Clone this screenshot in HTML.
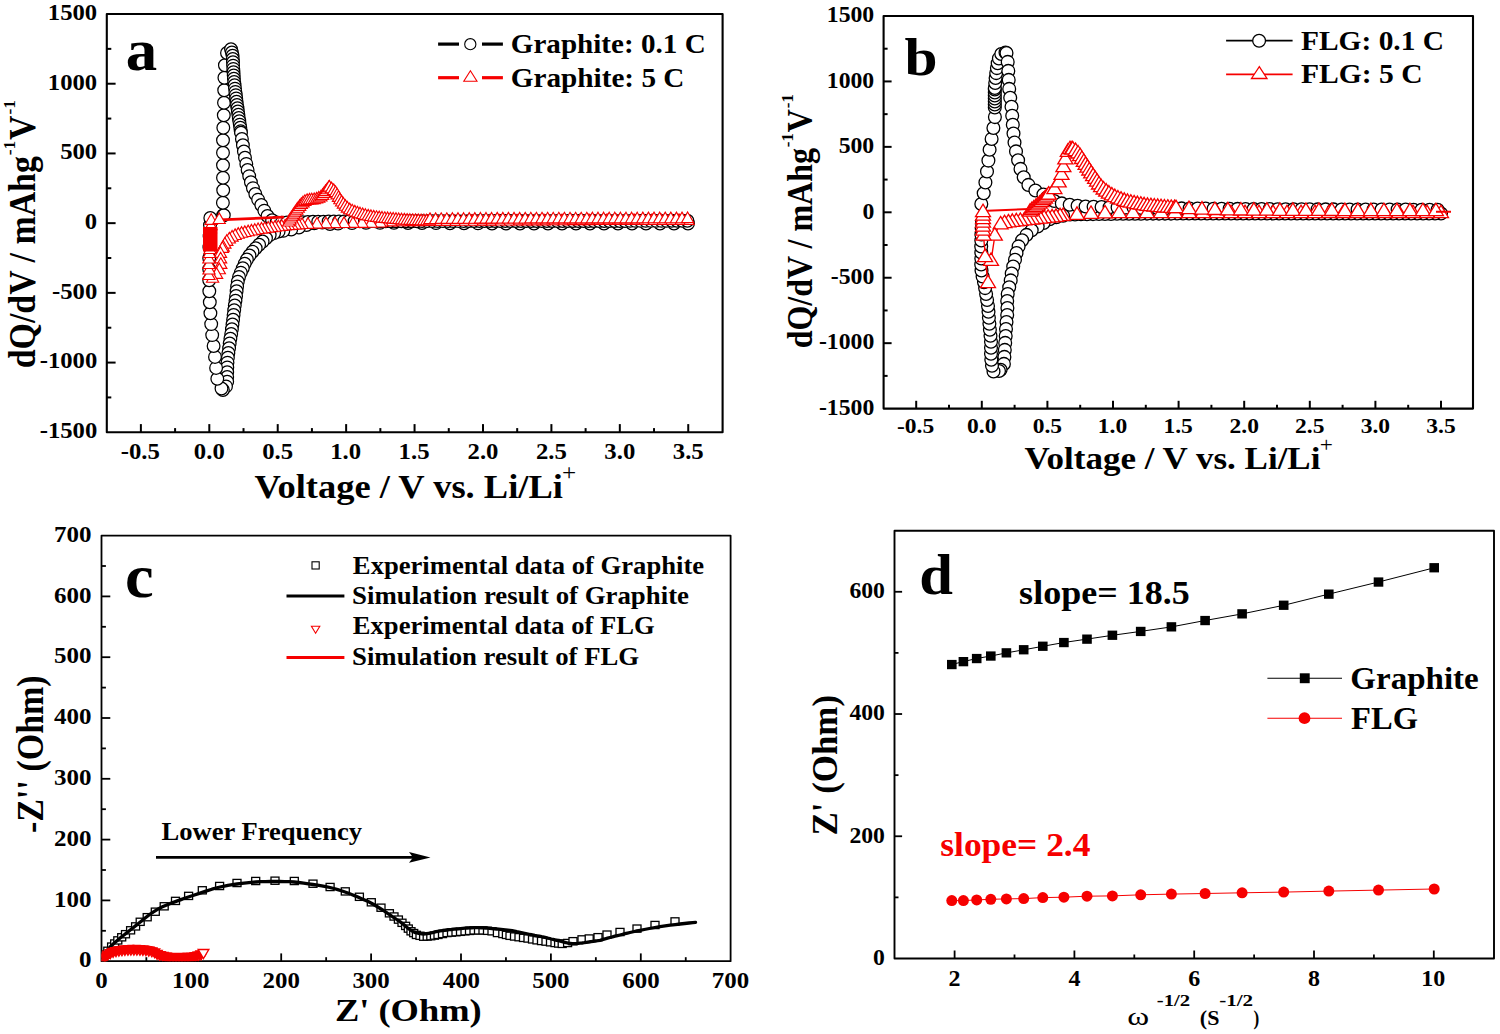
<!DOCTYPE html>
<html><head><meta charset="utf-8"><style>
html,body{margin:0;padding:0;background:#fff;overflow:hidden;}
svg{display:block;}
text{font-family:"Liberation Serif",serif;}
</style></head><body>
<svg width="1500" height="1034" viewBox="0 0 1500 1034">
<rect width="1500" height="1034" fill="#fff"/>
<defs><clipPath id="clipa"><rect x="106.8" y="14.0" width="615.8" height="418.3"/></clipPath><clipPath id="clipb"><rect x="883.6" y="16.0" width="589.4" height="392.6"/></clipPath><clipPath id="clipc"><rect x="101.5" y="535.6" width="629.1" height="425.6"/></clipPath><clipPath id="clipd"><rect x="894.5" y="530.8" width="599.5" height="427.7"/></clipPath></defs>
<rect x="106.80" y="14.00" width="615.80" height="418.30" fill="none" stroke="#000" stroke-width="2.10" stroke-linejoin="round"/>
<line x1="140.88" y1="432.30" x2="140.88" y2="424.10" stroke="#000" stroke-width="2.00" stroke-linecap="butt"/>
<line x1="209.30" y1="432.30" x2="209.30" y2="424.10" stroke="#000" stroke-width="2.00" stroke-linecap="butt"/>
<line x1="277.72" y1="432.30" x2="277.72" y2="424.10" stroke="#000" stroke-width="2.00" stroke-linecap="butt"/>
<line x1="346.14" y1="432.30" x2="346.14" y2="424.10" stroke="#000" stroke-width="2.00" stroke-linecap="butt"/>
<line x1="414.56" y1="432.30" x2="414.56" y2="424.10" stroke="#000" stroke-width="2.00" stroke-linecap="butt"/>
<line x1="482.98" y1="432.30" x2="482.98" y2="424.10" stroke="#000" stroke-width="2.00" stroke-linecap="butt"/>
<line x1="551.40" y1="432.30" x2="551.40" y2="424.10" stroke="#000" stroke-width="2.00" stroke-linecap="butt"/>
<line x1="619.82" y1="432.30" x2="619.82" y2="424.10" stroke="#000" stroke-width="2.00" stroke-linecap="butt"/>
<line x1="688.24" y1="432.30" x2="688.24" y2="424.10" stroke="#000" stroke-width="2.00" stroke-linecap="butt"/>
<line x1="175.09" y1="432.30" x2="175.09" y2="428.10" stroke="#000" stroke-width="2.00" stroke-linecap="butt"/>
<line x1="243.51" y1="432.30" x2="243.51" y2="428.10" stroke="#000" stroke-width="2.00" stroke-linecap="butt"/>
<line x1="311.93" y1="432.30" x2="311.93" y2="428.10" stroke="#000" stroke-width="2.00" stroke-linecap="butt"/>
<line x1="380.35" y1="432.30" x2="380.35" y2="428.10" stroke="#000" stroke-width="2.00" stroke-linecap="butt"/>
<line x1="448.77" y1="432.30" x2="448.77" y2="428.10" stroke="#000" stroke-width="2.00" stroke-linecap="butt"/>
<line x1="517.19" y1="432.30" x2="517.19" y2="428.10" stroke="#000" stroke-width="2.00" stroke-linecap="butt"/>
<line x1="585.61" y1="432.30" x2="585.61" y2="428.10" stroke="#000" stroke-width="2.00" stroke-linecap="butt"/>
<line x1="654.03" y1="432.30" x2="654.03" y2="428.10" stroke="#000" stroke-width="2.00" stroke-linecap="butt"/>
<line x1="106.80" y1="362.58" x2="115.60" y2="362.58" stroke="#000" stroke-width="2.00" stroke-linecap="butt"/>
<line x1="106.80" y1="292.87" x2="115.60" y2="292.87" stroke="#000" stroke-width="2.00" stroke-linecap="butt"/>
<line x1="106.80" y1="223.15" x2="115.60" y2="223.15" stroke="#000" stroke-width="2.00" stroke-linecap="butt"/>
<line x1="106.80" y1="153.44" x2="115.60" y2="153.44" stroke="#000" stroke-width="2.00" stroke-linecap="butt"/>
<line x1="106.80" y1="83.72" x2="115.60" y2="83.72" stroke="#000" stroke-width="2.00" stroke-linecap="butt"/>
<line x1="106.80" y1="397.44" x2="111.30" y2="397.44" stroke="#000" stroke-width="2.00" stroke-linecap="butt"/>
<line x1="106.80" y1="327.72" x2="111.30" y2="327.72" stroke="#000" stroke-width="2.00" stroke-linecap="butt"/>
<line x1="106.80" y1="258.01" x2="111.30" y2="258.01" stroke="#000" stroke-width="2.00" stroke-linecap="butt"/>
<line x1="106.80" y1="188.29" x2="111.30" y2="188.29" stroke="#000" stroke-width="2.00" stroke-linecap="butt"/>
<line x1="106.80" y1="118.58" x2="111.30" y2="118.58" stroke="#000" stroke-width="2.00" stroke-linecap="butt"/>
<line x1="106.80" y1="48.86" x2="111.30" y2="48.86" stroke="#000" stroke-width="2.00" stroke-linecap="butt"/>
<text transform="translate(47.81,19.80) scale(1.0550,1)" font-size="23.40" font-weight="bold" fill="#000">1500</text>
<text transform="translate(47.81,89.52) scale(1.0550,1)" font-size="23.40" font-weight="bold" fill="#000">1000</text>
<text transform="translate(60.16,159.24) scale(1.0550,1)" font-size="23.40" font-weight="bold" fill="#000">500</text>
<text transform="translate(84.84,228.95) scale(1.0550,1)" font-size="23.40" font-weight="bold" fill="#000">0</text>
<text transform="translate(52.01,298.67) scale(1.0550,1)" font-size="23.40" font-weight="bold" fill="#000">-500</text>
<text transform="translate(39.67,368.38) scale(1.0550,1)" font-size="23.40" font-weight="bold" fill="#000">-1000</text>
<text transform="translate(39.67,438.10) scale(1.0550,1)" font-size="23.40" font-weight="bold" fill="#000">-1500</text>
<text transform="translate(120.74,458.50) scale(1.0850,1)" font-size="22.80" font-weight="bold" fill="#000">-0.5</text>
<text transform="translate(193.84,458.50) scale(1.0850,1)" font-size="22.80" font-weight="bold" fill="#000">0.0</text>
<text transform="translate(262.26,458.50) scale(1.0850,1)" font-size="22.80" font-weight="bold" fill="#000">0.5</text>
<text transform="translate(330.18,458.50) scale(1.0850,1)" font-size="22.80" font-weight="bold" fill="#000">1.0</text>
<text transform="translate(398.60,458.50) scale(1.0850,1)" font-size="22.80" font-weight="bold" fill="#000">1.5</text>
<text transform="translate(467.52,458.50) scale(1.0850,1)" font-size="22.80" font-weight="bold" fill="#000">2.0</text>
<text transform="translate(535.94,458.50) scale(1.0850,1)" font-size="22.80" font-weight="bold" fill="#000">2.5</text>
<text transform="translate(604.36,458.50) scale(1.0850,1)" font-size="22.80" font-weight="bold" fill="#000">3.0</text>
<text transform="translate(672.78,458.50) scale(1.0850,1)" font-size="22.80" font-weight="bold" fill="#000">3.5</text>
<text transform="translate(254.43,497.90) scale(1.0799,1)" font-size="33.80" font-weight="bold" fill="#000">Voltage / V vs. Li/Li</text>
<text transform="translate(562.04,480.20) scale(1.1012,1)" font-size="22.80" font-weight="normal" fill="#000">+</text>
<text transform="translate(34.60,368.30) scale(1.1000,1) rotate(-90)" font-size="33.90" font-weight="bold" fill="#000">dQ/dV / mAhg</text>
<text transform="translate(14.80,155.25) scale(0.9500,1) rotate(-90)" font-size="17.50" font-weight="bold" fill="#000">-1</text>
<text transform="translate(34.60,139.88) scale(1.1000,1) rotate(-90)" font-size="33.90" font-weight="bold" fill="#000">V</text>
<text transform="translate(14.80,114.60) scale(0.9500,1) rotate(-90)" font-size="17.50" font-weight="bold" fill="#000">-1</text>
<text transform="translate(125.71,69.60) scale(1.0481,1)" font-size="60.00" font-weight="bold" fill="#000">a</text>
<line x1="438.10" y1="44.10" x2="459.00" y2="44.10" stroke="#000" stroke-width="3.20" stroke-linecap="butt"/>
<line x1="482.00" y1="44.10" x2="502.90" y2="44.10" stroke="#000" stroke-width="3.20" stroke-linecap="butt"/>
<circle cx="470.3" cy="44.2" r="5.60" fill="#fff" stroke="#000" stroke-width="1.10"/>
<line x1="438.10" y1="77.70" x2="459.00" y2="77.70" stroke="#f60000" stroke-width="3.20" stroke-linecap="butt"/>
<line x1="482.00" y1="77.70" x2="502.90" y2="77.70" stroke="#f60000" stroke-width="3.20" stroke-linecap="butt"/>
<polygon points="470.4,70.8 477.0,81.2 463.8,81.2" fill="#fff" stroke="#f60000" stroke-width="1.10" stroke-linejoin="miter"/>
<text transform="translate(510.74,53.30) scale(1.0790,1)" font-size="27.00" font-weight="bold" fill="#000">Graphite: 0.1 C</text>
<text transform="translate(510.74,87.00) scale(1.0825,1)" font-size="27.00" font-weight="bold" fill="#000">Graphite: 5 C</text>
<g id="adata" clip-path="url(#clipa)">
<circle cx="688.0" cy="223.5" r="6.35" fill="#fff" stroke="#000" stroke-width="1.25"/>
<circle cx="674.0" cy="223.5" r="6.35" fill="#fff" stroke="#000" stroke-width="1.25"/>
<circle cx="660.0" cy="223.5" r="6.35" fill="#fff" stroke="#000" stroke-width="1.25"/>
<circle cx="646.0" cy="223.5" r="6.35" fill="#fff" stroke="#000" stroke-width="1.25"/>
<circle cx="632.0" cy="223.5" r="6.35" fill="#fff" stroke="#000" stroke-width="1.25"/>
<circle cx="618.0" cy="223.5" r="6.35" fill="#fff" stroke="#000" stroke-width="1.25"/>
<circle cx="604.0" cy="223.5" r="6.35" fill="#fff" stroke="#000" stroke-width="1.25"/>
<circle cx="590.0" cy="223.5" r="6.35" fill="#fff" stroke="#000" stroke-width="1.25"/>
<circle cx="576.0" cy="223.5" r="6.35" fill="#fff" stroke="#000" stroke-width="1.25"/>
<circle cx="562.0" cy="223.5" r="6.35" fill="#fff" stroke="#000" stroke-width="1.25"/>
<circle cx="548.0" cy="223.5" r="6.35" fill="#fff" stroke="#000" stroke-width="1.25"/>
<circle cx="534.0" cy="223.5" r="6.35" fill="#fff" stroke="#000" stroke-width="1.25"/>
<circle cx="520.0" cy="223.5" r="6.35" fill="#fff" stroke="#000" stroke-width="1.25"/>
<circle cx="506.0" cy="223.5" r="6.35" fill="#fff" stroke="#000" stroke-width="1.25"/>
<circle cx="492.0" cy="223.5" r="6.35" fill="#fff" stroke="#000" stroke-width="1.25"/>
<circle cx="478.0" cy="223.4" r="6.35" fill="#fff" stroke="#000" stroke-width="1.25"/>
<circle cx="464.0" cy="223.3" r="6.35" fill="#fff" stroke="#000" stroke-width="1.25"/>
<circle cx="450.0" cy="223.2" r="6.35" fill="#fff" stroke="#000" stroke-width="1.25"/>
<circle cx="436.0" cy="223.1" r="6.35" fill="#fff" stroke="#000" stroke-width="1.25"/>
<circle cx="422.0" cy="223.0" r="6.35" fill="#fff" stroke="#000" stroke-width="1.25"/>
<circle cx="408.0" cy="223.0" r="6.35" fill="#fff" stroke="#000" stroke-width="1.25"/>
<circle cx="394.0" cy="222.9" r="6.35" fill="#fff" stroke="#000" stroke-width="1.25"/>
<circle cx="380.0" cy="222.9" r="6.35" fill="#fff" stroke="#000" stroke-width="1.25"/>
<circle cx="366.0" cy="222.9" r="6.35" fill="#fff" stroke="#000" stroke-width="1.25"/>
<circle cx="352.0" cy="223.1" r="6.35" fill="#fff" stroke="#000" stroke-width="1.25"/>
<circle cx="338.0" cy="223.6" r="6.35" fill="#fff" stroke="#000" stroke-width="1.25"/>
<circle cx="330.0" cy="224.0" r="6.35" fill="#fff" stroke="#000" stroke-width="1.25"/>
<circle cx="322.3" cy="222.6" r="6.35" fill="#fff" stroke="#000" stroke-width="1.25"/>
<circle cx="314.3" cy="223.4" r="6.35" fill="#fff" stroke="#000" stroke-width="1.25"/>
<circle cx="306.5" cy="225.0" r="6.35" fill="#fff" stroke="#000" stroke-width="1.25"/>
<circle cx="298.9" cy="227.5" r="6.35" fill="#fff" stroke="#000" stroke-width="1.25"/>
<circle cx="291.2" cy="229.5" r="6.35" fill="#fff" stroke="#000" stroke-width="1.25"/>
<circle cx="283.3" cy="230.9" r="6.35" fill="#fff" stroke="#000" stroke-width="1.25"/>
<circle cx="278.6" cy="231.5" r="6.35" fill="#fff" stroke="#000" stroke-width="1.25"/>
<circle cx="274.1" cy="233.1" r="6.35" fill="#fff" stroke="#000" stroke-width="1.25"/>
<circle cx="269.7" cy="235.1" r="6.35" fill="#fff" stroke="#000" stroke-width="1.25"/>
<circle cx="266.0" cy="238.2" r="6.35" fill="#fff" stroke="#000" stroke-width="1.25"/>
<circle cx="262.6" cy="241.5" r="6.35" fill="#fff" stroke="#000" stroke-width="1.25"/>
<circle cx="259.1" cy="244.8" r="6.35" fill="#fff" stroke="#000" stroke-width="1.25"/>
<circle cx="255.7" cy="248.2" r="6.35" fill="#fff" stroke="#000" stroke-width="1.25"/>
<circle cx="252.5" cy="251.8" r="6.35" fill="#fff" stroke="#000" stroke-width="1.25"/>
<circle cx="249.5" cy="255.5" r="6.35" fill="#fff" stroke="#000" stroke-width="1.25"/>
<circle cx="246.9" cy="259.5" r="6.35" fill="#fff" stroke="#000" stroke-width="1.25"/>
<circle cx="244.7" cy="263.8" r="6.35" fill="#fff" stroke="#000" stroke-width="1.25"/>
<circle cx="242.8" cy="268.2" r="6.35" fill="#fff" stroke="#000" stroke-width="1.25"/>
<circle cx="240.8" cy="272.6" r="6.35" fill="#fff" stroke="#000" stroke-width="1.25"/>
<circle cx="239.0" cy="277.0" r="6.35" fill="#fff" stroke="#000" stroke-width="1.25"/>
<circle cx="237.8" cy="281.7" r="6.35" fill="#fff" stroke="#000" stroke-width="1.25"/>
<circle cx="237.1" cy="286.4" r="6.35" fill="#fff" stroke="#000" stroke-width="1.25"/>
<circle cx="236.6" cy="291.2" r="6.35" fill="#fff" stroke="#000" stroke-width="1.25"/>
<circle cx="236.1" cy="296.0" r="6.35" fill="#fff" stroke="#000" stroke-width="1.25"/>
<circle cx="235.5" cy="300.7" r="6.35" fill="#fff" stroke="#000" stroke-width="1.25"/>
<circle cx="234.8" cy="305.5" r="6.35" fill="#fff" stroke="#000" stroke-width="1.25"/>
<circle cx="234.2" cy="310.2" r="6.35" fill="#fff" stroke="#000" stroke-width="1.25"/>
<circle cx="233.6" cy="315.0" r="6.35" fill="#fff" stroke="#000" stroke-width="1.25"/>
<circle cx="233.1" cy="319.8" r="6.35" fill="#fff" stroke="#000" stroke-width="1.25"/>
<circle cx="232.5" cy="324.5" r="6.35" fill="#fff" stroke="#000" stroke-width="1.25"/>
<circle cx="231.9" cy="329.3" r="6.35" fill="#fff" stroke="#000" stroke-width="1.25"/>
<circle cx="231.2" cy="334.0" r="6.35" fill="#fff" stroke="#000" stroke-width="1.25"/>
<circle cx="230.4" cy="338.8" r="6.35" fill="#fff" stroke="#000" stroke-width="1.25"/>
<circle cx="229.7" cy="343.5" r="6.35" fill="#fff" stroke="#000" stroke-width="1.25"/>
<circle cx="229.1" cy="348.3" r="6.35" fill="#fff" stroke="#000" stroke-width="1.25"/>
<circle cx="228.4" cy="353.0" r="6.35" fill="#fff" stroke="#000" stroke-width="1.25"/>
<circle cx="227.9" cy="357.8" r="6.35" fill="#fff" stroke="#000" stroke-width="1.25"/>
<circle cx="227.5" cy="362.6" r="6.35" fill="#fff" stroke="#000" stroke-width="1.25"/>
<circle cx="227.3" cy="367.4" r="6.35" fill="#fff" stroke="#000" stroke-width="1.25"/>
<circle cx="227.2" cy="372.2" r="6.35" fill="#fff" stroke="#000" stroke-width="1.25"/>
<circle cx="227.2" cy="377.0" r="6.35" fill="#fff" stroke="#000" stroke-width="1.25"/>
<circle cx="227.2" cy="381.8" r="6.35" fill="#fff" stroke="#000" stroke-width="1.25"/>
<circle cx="226.0" cy="386.4" r="6.35" fill="#fff" stroke="#000" stroke-width="1.25"/>
<circle cx="222.9" cy="390.0" r="6.35" fill="#fff" stroke="#000" stroke-width="1.25"/>
<circle cx="221.5" cy="388.5" r="6.35" fill="#fff" stroke="#000" stroke-width="1.25"/>
<circle cx="217.3" cy="378.8" r="6.35" fill="#fff" stroke="#000" stroke-width="1.25"/>
<circle cx="216.1" cy="367.9" r="6.35" fill="#fff" stroke="#000" stroke-width="1.25"/>
<circle cx="215.0" cy="356.9" r="6.35" fill="#fff" stroke="#000" stroke-width="1.25"/>
<circle cx="213.6" cy="346.0" r="6.35" fill="#fff" stroke="#000" stroke-width="1.25"/>
<circle cx="212.2" cy="335.1" r="6.35" fill="#fff" stroke="#000" stroke-width="1.25"/>
<circle cx="211.2" cy="324.1" r="6.35" fill="#fff" stroke="#000" stroke-width="1.25"/>
<circle cx="210.4" cy="313.2" r="6.35" fill="#fff" stroke="#000" stroke-width="1.25"/>
<circle cx="209.8" cy="302.2" r="6.35" fill="#fff" stroke="#000" stroke-width="1.25"/>
<circle cx="209.3" cy="291.2" r="6.35" fill="#fff" stroke="#000" stroke-width="1.25"/>
<circle cx="209.2" cy="280.2" r="6.35" fill="#fff" stroke="#000" stroke-width="1.25"/>
<circle cx="209.2" cy="269.2" r="6.35" fill="#fff" stroke="#000" stroke-width="1.25"/>
<circle cx="209.2" cy="258.2" r="6.35" fill="#fff" stroke="#000" stroke-width="1.25"/>
<circle cx="209.4" cy="247.2" r="6.35" fill="#fff" stroke="#000" stroke-width="1.25"/>
<circle cx="209.6" cy="236.2" r="6.35" fill="#fff" stroke="#000" stroke-width="1.25"/>
<circle cx="210.0" cy="225.2" r="6.35" fill="#fff" stroke="#000" stroke-width="1.25"/>
<circle cx="210.3" cy="218.0" r="6.35" fill="#fff" stroke="#000" stroke-width="1.25"/>
<circle cx="223.0" cy="215.4" r="6.35" fill="#fff" stroke="#000" stroke-width="1.25"/>
<circle cx="223.8" cy="215.2" r="6.35" fill="#fff" stroke="#000" stroke-width="1.25"/>
<circle cx="222.9" cy="202.7" r="6.35" fill="#fff" stroke="#000" stroke-width="1.25"/>
<circle cx="223.2" cy="190.3" r="6.35" fill="#fff" stroke="#000" stroke-width="1.25"/>
<circle cx="223.0" cy="177.8" r="6.35" fill="#fff" stroke="#000" stroke-width="1.25"/>
<circle cx="223.0" cy="165.3" r="6.35" fill="#fff" stroke="#000" stroke-width="1.25"/>
<circle cx="223.0" cy="152.8" r="6.35" fill="#fff" stroke="#000" stroke-width="1.25"/>
<circle cx="223.0" cy="140.3" r="6.35" fill="#fff" stroke="#000" stroke-width="1.25"/>
<circle cx="223.3" cy="127.8" r="6.35" fill="#fff" stroke="#000" stroke-width="1.25"/>
<circle cx="223.8" cy="115.3" r="6.35" fill="#fff" stroke="#000" stroke-width="1.25"/>
<circle cx="224.0" cy="102.8" r="6.35" fill="#fff" stroke="#000" stroke-width="1.25"/>
<circle cx="224.2" cy="90.3" r="6.35" fill="#fff" stroke="#000" stroke-width="1.25"/>
<circle cx="224.4" cy="77.8" r="6.35" fill="#fff" stroke="#000" stroke-width="1.25"/>
<circle cx="224.9" cy="65.3" r="6.35" fill="#fff" stroke="#000" stroke-width="1.25"/>
<circle cx="227.0" cy="53.0" r="6.35" fill="#fff" stroke="#000" stroke-width="1.25"/>
<circle cx="231.0" cy="49.3" r="6.35" fill="#fff" stroke="#000" stroke-width="1.25"/>
<circle cx="231.9" cy="52.5" r="6.35" fill="#fff" stroke="#000" stroke-width="1.25"/>
<circle cx="232.6" cy="55.7" r="6.35" fill="#fff" stroke="#000" stroke-width="1.25"/>
<circle cx="232.8" cy="59.0" r="6.35" fill="#fff" stroke="#000" stroke-width="1.25"/>
<circle cx="233.0" cy="62.3" r="6.35" fill="#fff" stroke="#000" stroke-width="1.25"/>
<circle cx="233.1" cy="65.6" r="6.35" fill="#fff" stroke="#000" stroke-width="1.25"/>
<circle cx="233.3" cy="68.9" r="6.35" fill="#fff" stroke="#000" stroke-width="1.25"/>
<circle cx="233.5" cy="72.2" r="6.35" fill="#fff" stroke="#000" stroke-width="1.25"/>
<circle cx="233.7" cy="75.5" r="6.35" fill="#fff" stroke="#000" stroke-width="1.25"/>
<circle cx="233.9" cy="78.8" r="6.35" fill="#fff" stroke="#000" stroke-width="1.25"/>
<circle cx="234.2" cy="82.0" r="6.35" fill="#fff" stroke="#000" stroke-width="1.25"/>
<circle cx="234.6" cy="85.3" r="6.35" fill="#fff" stroke="#000" stroke-width="1.25"/>
<circle cx="235.0" cy="88.6" r="6.35" fill="#fff" stroke="#000" stroke-width="1.25"/>
<circle cx="235.4" cy="91.9" r="6.35" fill="#fff" stroke="#000" stroke-width="1.25"/>
<circle cx="235.8" cy="95.1" r="6.35" fill="#fff" stroke="#000" stroke-width="1.25"/>
<circle cx="236.2" cy="98.4" r="6.35" fill="#fff" stroke="#000" stroke-width="1.25"/>
<circle cx="236.6" cy="101.7" r="6.35" fill="#fff" stroke="#000" stroke-width="1.25"/>
<circle cx="237.0" cy="105.0" r="6.35" fill="#fff" stroke="#000" stroke-width="1.25"/>
<circle cx="237.5" cy="108.2" r="6.35" fill="#fff" stroke="#000" stroke-width="1.25"/>
<circle cx="237.9" cy="111.5" r="6.35" fill="#fff" stroke="#000" stroke-width="1.25"/>
<circle cx="238.4" cy="114.8" r="6.35" fill="#fff" stroke="#000" stroke-width="1.25"/>
<circle cx="238.8" cy="118.0" r="6.35" fill="#fff" stroke="#000" stroke-width="1.25"/>
<circle cx="239.3" cy="121.3" r="6.35" fill="#fff" stroke="#000" stroke-width="1.25"/>
<circle cx="239.8" cy="124.6" r="6.35" fill="#fff" stroke="#000" stroke-width="1.25"/>
<circle cx="240.3" cy="127.8" r="6.35" fill="#fff" stroke="#000" stroke-width="1.25"/>
<circle cx="240.7" cy="131.1" r="6.35" fill="#fff" stroke="#000" stroke-width="1.25"/>
<circle cx="241.0" cy="132.8" r="6.35" fill="#fff" stroke="#000" stroke-width="1.25"/>
<circle cx="241.9" cy="139.0" r="6.35" fill="#fff" stroke="#000" stroke-width="1.25"/>
<circle cx="242.9" cy="145.3" r="6.35" fill="#fff" stroke="#000" stroke-width="1.25"/>
<circle cx="243.9" cy="151.5" r="6.35" fill="#fff" stroke="#000" stroke-width="1.25"/>
<circle cx="245.0" cy="157.7" r="6.35" fill="#fff" stroke="#000" stroke-width="1.25"/>
<circle cx="246.3" cy="163.9" r="6.35" fill="#fff" stroke="#000" stroke-width="1.25"/>
<circle cx="247.6" cy="170.0" r="6.35" fill="#fff" stroke="#000" stroke-width="1.25"/>
<circle cx="249.2" cy="176.1" r="6.35" fill="#fff" stroke="#000" stroke-width="1.25"/>
<circle cx="250.9" cy="182.2" r="6.35" fill="#fff" stroke="#000" stroke-width="1.25"/>
<circle cx="252.9" cy="188.1" r="6.35" fill="#fff" stroke="#000" stroke-width="1.25"/>
<circle cx="255.3" cy="194.0" r="6.35" fill="#fff" stroke="#000" stroke-width="1.25"/>
<circle cx="258.1" cy="199.6" r="6.35" fill="#fff" stroke="#000" stroke-width="1.25"/>
<circle cx="261.3" cy="205.0" r="6.35" fill="#fff" stroke="#000" stroke-width="1.25"/>
<circle cx="264.3" cy="210.6" r="6.35" fill="#fff" stroke="#000" stroke-width="1.25"/>
<circle cx="267.5" cy="216.0" r="6.35" fill="#fff" stroke="#000" stroke-width="1.25"/>
<circle cx="272.1" cy="220.2" r="6.35" fill="#fff" stroke="#000" stroke-width="1.25"/>
<circle cx="276.6" cy="222.5" r="6.35" fill="#fff" stroke="#000" stroke-width="1.25"/>
<circle cx="281.8" cy="222.6" r="6.35" fill="#fff" stroke="#000" stroke-width="1.25"/>
<circle cx="287.0" cy="222.5" r="6.35" fill="#fff" stroke="#000" stroke-width="1.25"/>
<circle cx="292.2" cy="222.4" r="6.35" fill="#fff" stroke="#000" stroke-width="1.25"/>
<circle cx="297.4" cy="222.3" r="6.35" fill="#fff" stroke="#000" stroke-width="1.25"/>
<circle cx="302.6" cy="222.1" r="6.35" fill="#fff" stroke="#000" stroke-width="1.25"/>
<circle cx="307.8" cy="222.0" r="6.35" fill="#fff" stroke="#000" stroke-width="1.25"/>
<circle cx="313.0" cy="221.8" r="6.35" fill="#fff" stroke="#000" stroke-width="1.25"/>
<circle cx="318.2" cy="221.7" r="6.35" fill="#fff" stroke="#000" stroke-width="1.25"/>
<circle cx="323.4" cy="221.6" r="6.35" fill="#fff" stroke="#000" stroke-width="1.25"/>
<circle cx="328.6" cy="221.5" r="6.35" fill="#fff" stroke="#000" stroke-width="1.25"/>
<circle cx="333.8" cy="221.5" r="6.35" fill="#fff" stroke="#000" stroke-width="1.25"/>
<circle cx="339.0" cy="221.4" r="6.35" fill="#fff" stroke="#000" stroke-width="1.25"/>
<circle cx="344.2" cy="221.4" r="6.35" fill="#fff" stroke="#000" stroke-width="1.25"/>
<circle cx="349.4" cy="221.3" r="6.35" fill="#fff" stroke="#000" stroke-width="1.25"/>
<circle cx="354.6" cy="221.3" r="6.35" fill="#fff" stroke="#000" stroke-width="1.25"/>
<circle cx="359.8" cy="221.3" r="6.35" fill="#fff" stroke="#000" stroke-width="1.25"/>
<circle cx="365.0" cy="221.3" r="6.35" fill="#fff" stroke="#000" stroke-width="1.25"/>
<circle cx="370.2" cy="221.3" r="6.35" fill="#fff" stroke="#000" stroke-width="1.25"/>
<circle cx="375.4" cy="221.3" r="6.35" fill="#fff" stroke="#000" stroke-width="1.25"/>
<circle cx="380.6" cy="221.2" r="6.35" fill="#fff" stroke="#000" stroke-width="1.25"/>
<circle cx="385.8" cy="221.2" r="6.35" fill="#fff" stroke="#000" stroke-width="1.25"/>
<circle cx="391.0" cy="221.2" r="6.35" fill="#fff" stroke="#000" stroke-width="1.25"/>
<circle cx="396.2" cy="221.2" r="6.35" fill="#fff" stroke="#000" stroke-width="1.25"/>
<circle cx="401.4" cy="221.2" r="6.35" fill="#fff" stroke="#000" stroke-width="1.25"/>
<circle cx="406.6" cy="221.2" r="6.35" fill="#fff" stroke="#000" stroke-width="1.25"/>
<circle cx="411.8" cy="221.2" r="6.35" fill="#fff" stroke="#000" stroke-width="1.25"/>
<circle cx="417.0" cy="221.2" r="6.35" fill="#fff" stroke="#000" stroke-width="1.25"/>
<circle cx="422.2" cy="221.1" r="6.35" fill="#fff" stroke="#000" stroke-width="1.25"/>
<circle cx="427.4" cy="221.1" r="6.35" fill="#fff" stroke="#000" stroke-width="1.25"/>
<circle cx="432.6" cy="221.1" r="6.35" fill="#fff" stroke="#000" stroke-width="1.25"/>
<circle cx="437.8" cy="221.1" r="6.35" fill="#fff" stroke="#000" stroke-width="1.25"/>
<circle cx="443.0" cy="221.1" r="6.35" fill="#fff" stroke="#000" stroke-width="1.25"/>
<circle cx="448.2" cy="221.1" r="6.35" fill="#fff" stroke="#000" stroke-width="1.25"/>
<circle cx="453.4" cy="221.1" r="6.35" fill="#fff" stroke="#000" stroke-width="1.25"/>
<circle cx="458.6" cy="221.1" r="6.35" fill="#fff" stroke="#000" stroke-width="1.25"/>
<circle cx="463.8" cy="221.1" r="6.35" fill="#fff" stroke="#000" stroke-width="1.25"/>
<circle cx="469.0" cy="221.0" r="6.35" fill="#fff" stroke="#000" stroke-width="1.25"/>
<circle cx="474.2" cy="221.0" r="6.35" fill="#fff" stroke="#000" stroke-width="1.25"/>
<circle cx="479.4" cy="221.0" r="6.35" fill="#fff" stroke="#000" stroke-width="1.25"/>
<circle cx="484.6" cy="221.0" r="6.35" fill="#fff" stroke="#000" stroke-width="1.25"/>
<circle cx="489.8" cy="221.0" r="6.35" fill="#fff" stroke="#000" stroke-width="1.25"/>
<circle cx="495.0" cy="221.0" r="6.35" fill="#fff" stroke="#000" stroke-width="1.25"/>
<circle cx="500.2" cy="221.0" r="6.35" fill="#fff" stroke="#000" stroke-width="1.25"/>
<circle cx="505.4" cy="221.0" r="6.35" fill="#fff" stroke="#000" stroke-width="1.25"/>
<circle cx="510.6" cy="221.0" r="6.35" fill="#fff" stroke="#000" stroke-width="1.25"/>
<circle cx="515.8" cy="221.0" r="6.35" fill="#fff" stroke="#000" stroke-width="1.25"/>
<circle cx="521.0" cy="221.0" r="6.35" fill="#fff" stroke="#000" stroke-width="1.25"/>
<circle cx="526.2" cy="221.0" r="6.35" fill="#fff" stroke="#000" stroke-width="1.25"/>
<circle cx="531.4" cy="221.0" r="6.35" fill="#fff" stroke="#000" stroke-width="1.25"/>
<circle cx="536.6" cy="221.0" r="6.35" fill="#fff" stroke="#000" stroke-width="1.25"/>
<circle cx="541.8" cy="221.0" r="6.35" fill="#fff" stroke="#000" stroke-width="1.25"/>
<circle cx="547.0" cy="221.0" r="6.35" fill="#fff" stroke="#000" stroke-width="1.25"/>
<circle cx="552.2" cy="221.0" r="6.35" fill="#fff" stroke="#000" stroke-width="1.25"/>
<circle cx="557.4" cy="221.0" r="6.35" fill="#fff" stroke="#000" stroke-width="1.25"/>
<circle cx="562.6" cy="221.0" r="6.35" fill="#fff" stroke="#000" stroke-width="1.25"/>
<circle cx="567.8" cy="221.0" r="6.35" fill="#fff" stroke="#000" stroke-width="1.25"/>
<circle cx="573.0" cy="221.0" r="6.35" fill="#fff" stroke="#000" stroke-width="1.25"/>
<circle cx="578.2" cy="221.0" r="6.35" fill="#fff" stroke="#000" stroke-width="1.25"/>
<circle cx="583.4" cy="221.0" r="6.35" fill="#fff" stroke="#000" stroke-width="1.25"/>
<circle cx="588.6" cy="221.0" r="6.35" fill="#fff" stroke="#000" stroke-width="1.25"/>
<circle cx="593.8" cy="221.0" r="6.35" fill="#fff" stroke="#000" stroke-width="1.25"/>
<circle cx="599.0" cy="221.0" r="6.35" fill="#fff" stroke="#000" stroke-width="1.25"/>
<circle cx="604.2" cy="221.0" r="6.35" fill="#fff" stroke="#000" stroke-width="1.25"/>
<circle cx="609.4" cy="221.0" r="6.35" fill="#fff" stroke="#000" stroke-width="1.25"/>
<circle cx="614.6" cy="221.0" r="6.35" fill="#fff" stroke="#000" stroke-width="1.25"/>
<circle cx="619.8" cy="221.0" r="6.35" fill="#fff" stroke="#000" stroke-width="1.25"/>
<circle cx="625.0" cy="221.0" r="6.35" fill="#fff" stroke="#000" stroke-width="1.25"/>
<circle cx="630.2" cy="220.9" r="6.35" fill="#fff" stroke="#000" stroke-width="1.25"/>
<circle cx="635.4" cy="220.9" r="6.35" fill="#fff" stroke="#000" stroke-width="1.25"/>
<circle cx="640.6" cy="220.9" r="6.35" fill="#fff" stroke="#000" stroke-width="1.25"/>
<circle cx="645.8" cy="220.9" r="6.35" fill="#fff" stroke="#000" stroke-width="1.25"/>
<circle cx="651.0" cy="220.9" r="6.35" fill="#fff" stroke="#000" stroke-width="1.25"/>
<circle cx="656.2" cy="220.9" r="6.35" fill="#fff" stroke="#000" stroke-width="1.25"/>
<circle cx="661.4" cy="220.9" r="6.35" fill="#fff" stroke="#000" stroke-width="1.25"/>
<circle cx="666.6" cy="220.9" r="6.35" fill="#fff" stroke="#000" stroke-width="1.25"/>
<circle cx="671.8" cy="220.8" r="6.35" fill="#fff" stroke="#000" stroke-width="1.25"/>
<circle cx="677.0" cy="220.8" r="6.35" fill="#fff" stroke="#000" stroke-width="1.25"/>
<circle cx="682.2" cy="220.8" r="6.35" fill="#fff" stroke="#000" stroke-width="1.25"/>
<circle cx="687.4" cy="220.8" r="6.35" fill="#fff" stroke="#000" stroke-width="1.25"/>
<line x1="219.60" y1="219.90" x2="284.00" y2="217.10" stroke="#f60000" stroke-width="2.80" stroke-linecap="butt"/>
<polygon points="688.0,213.9 694.1,224.5 681.9,224.5" fill="#fff" stroke="#f60000" stroke-width="1.15" stroke-linejoin="miter"/>
<polygon points="679.0,213.9 685.1,224.5 672.9,224.5" fill="#fff" stroke="#f60000" stroke-width="1.15" stroke-linejoin="miter"/>
<polygon points="670.0,213.9 676.1,224.5 663.9,224.5" fill="#fff" stroke="#f60000" stroke-width="1.15" stroke-linejoin="miter"/>
<polygon points="661.0,213.9 667.1,224.5 654.9,224.5" fill="#fff" stroke="#f60000" stroke-width="1.15" stroke-linejoin="miter"/>
<polygon points="652.0,213.9 658.1,224.5 645.9,224.5" fill="#fff" stroke="#f60000" stroke-width="1.15" stroke-linejoin="miter"/>
<polygon points="643.0,213.9 649.1,224.5 636.9,224.5" fill="#fff" stroke="#f60000" stroke-width="1.15" stroke-linejoin="miter"/>
<polygon points="634.0,213.9 640.1,224.5 627.9,224.5" fill="#fff" stroke="#f60000" stroke-width="1.15" stroke-linejoin="miter"/>
<polygon points="625.0,213.9 631.1,224.5 618.9,224.5" fill="#fff" stroke="#f60000" stroke-width="1.15" stroke-linejoin="miter"/>
<polygon points="616.0,213.9 622.1,224.5 609.9,224.5" fill="#fff" stroke="#f60000" stroke-width="1.15" stroke-linejoin="miter"/>
<polygon points="607.0,213.9 613.1,224.5 600.9,224.5" fill="#fff" stroke="#f60000" stroke-width="1.15" stroke-linejoin="miter"/>
<polygon points="598.0,213.9 604.1,224.5 591.9,224.5" fill="#fff" stroke="#f60000" stroke-width="1.15" stroke-linejoin="miter"/>
<polygon points="589.0,214.0 595.1,224.6 582.9,224.6" fill="#fff" stroke="#f60000" stroke-width="1.15" stroke-linejoin="miter"/>
<polygon points="580.0,214.0 586.1,224.6 573.9,224.6" fill="#fff" stroke="#f60000" stroke-width="1.15" stroke-linejoin="miter"/>
<polygon points="571.0,214.0 577.1,224.6 564.9,224.6" fill="#fff" stroke="#f60000" stroke-width="1.15" stroke-linejoin="miter"/>
<polygon points="562.0,214.1 568.1,224.7 555.9,224.7" fill="#fff" stroke="#f60000" stroke-width="1.15" stroke-linejoin="miter"/>
<polygon points="553.0,214.1 559.1,224.7 546.9,224.7" fill="#fff" stroke="#f60000" stroke-width="1.15" stroke-linejoin="miter"/>
<polygon points="544.0,214.2 550.1,224.8 537.9,224.8" fill="#fff" stroke="#f60000" stroke-width="1.15" stroke-linejoin="miter"/>
<polygon points="535.0,214.2 541.1,224.8 528.9,224.8" fill="#fff" stroke="#f60000" stroke-width="1.15" stroke-linejoin="miter"/>
<polygon points="526.0,214.3 532.1,224.9 519.9,224.9" fill="#fff" stroke="#f60000" stroke-width="1.15" stroke-linejoin="miter"/>
<polygon points="517.0,214.3 523.1,224.9 510.9,224.9" fill="#fff" stroke="#f60000" stroke-width="1.15" stroke-linejoin="miter"/>
<polygon points="508.0,214.4 514.1,225.0 501.9,225.0" fill="#fff" stroke="#f60000" stroke-width="1.15" stroke-linejoin="miter"/>
<polygon points="499.0,214.4 505.1,225.0 492.9,225.0" fill="#fff" stroke="#f60000" stroke-width="1.15" stroke-linejoin="miter"/>
<polygon points="490.0,214.5 496.1,225.1 483.9,225.1" fill="#fff" stroke="#f60000" stroke-width="1.15" stroke-linejoin="miter"/>
<polygon points="481.0,214.5 487.1,225.1 474.9,225.1" fill="#fff" stroke="#f60000" stroke-width="1.15" stroke-linejoin="miter"/>
<polygon points="472.0,214.6 478.1,225.2 465.9,225.2" fill="#fff" stroke="#f60000" stroke-width="1.15" stroke-linejoin="miter"/>
<polygon points="463.0,214.6 469.1,225.2 456.9,225.2" fill="#fff" stroke="#f60000" stroke-width="1.15" stroke-linejoin="miter"/>
<polygon points="454.0,214.7 460.1,225.3 447.9,225.3" fill="#fff" stroke="#f60000" stroke-width="1.15" stroke-linejoin="miter"/>
<polygon points="445.0,214.8 451.1,225.4 438.9,225.4" fill="#fff" stroke="#f60000" stroke-width="1.15" stroke-linejoin="miter"/>
<polygon points="436.0,214.8 442.1,225.4 429.9,225.4" fill="#fff" stroke="#f60000" stroke-width="1.15" stroke-linejoin="miter"/>
<polygon points="427.0,214.9 433.1,225.5 420.9,225.5" fill="#fff" stroke="#f60000" stroke-width="1.15" stroke-linejoin="miter"/>
<polygon points="418.0,215.0 424.1,225.6 411.9,225.6" fill="#fff" stroke="#f60000" stroke-width="1.15" stroke-linejoin="miter"/>
<polygon points="409.0,215.0 415.1,225.6 402.9,225.6" fill="#fff" stroke="#f60000" stroke-width="1.15" stroke-linejoin="miter"/>
<polygon points="400.0,215.1 406.1,225.7 393.9,225.7" fill="#fff" stroke="#f60000" stroke-width="1.15" stroke-linejoin="miter"/>
<polygon points="391.0,215.3 397.1,225.9 384.9,225.9" fill="#fff" stroke="#f60000" stroke-width="1.15" stroke-linejoin="miter"/>
<polygon points="382.0,215.4 388.1,226.0 375.9,226.0" fill="#fff" stroke="#f60000" stroke-width="1.15" stroke-linejoin="miter"/>
<polygon points="380.0,216.4 386.1,227.0 373.9,227.0" fill="#fff" stroke="#f60000" stroke-width="1.15" stroke-linejoin="miter"/>
<polygon points="371.0,216.6 377.1,227.2 364.9,227.2" fill="#fff" stroke="#f60000" stroke-width="1.15" stroke-linejoin="miter"/>
<polygon points="362.0,216.7 368.1,227.3 355.9,227.3" fill="#fff" stroke="#f60000" stroke-width="1.15" stroke-linejoin="miter"/>
<polygon points="353.0,216.8 359.1,227.4 346.9,227.4" fill="#fff" stroke="#f60000" stroke-width="1.15" stroke-linejoin="miter"/>
<polygon points="344.0,216.9 350.1,227.5 337.9,227.5" fill="#fff" stroke="#f60000" stroke-width="1.15" stroke-linejoin="miter"/>
<polygon points="335.0,217.0 341.1,227.6 328.9,227.6" fill="#fff" stroke="#f60000" stroke-width="1.15" stroke-linejoin="miter"/>
<polygon points="326.0,217.2 332.1,227.8 319.9,227.8" fill="#fff" stroke="#f60000" stroke-width="1.15" stroke-linejoin="miter"/>
<polygon points="317.0,217.5 323.1,228.1 310.9,228.1" fill="#fff" stroke="#f60000" stroke-width="1.15" stroke-linejoin="miter"/>
<polygon points="308.0,217.7 314.1,228.3 301.9,228.3" fill="#fff" stroke="#f60000" stroke-width="1.15" stroke-linejoin="miter"/>
<polygon points="302.0,217.9 308.1,228.5 295.9,228.5" fill="#fff" stroke="#f60000" stroke-width="1.15" stroke-linejoin="miter"/>
<polygon points="298.6,218.2 304.7,228.8 292.5,228.8" fill="#fff" stroke="#f60000" stroke-width="1.15" stroke-linejoin="miter"/>
<polygon points="295.2,218.4 301.3,229.0 289.1,229.0" fill="#fff" stroke="#f60000" stroke-width="1.15" stroke-linejoin="miter"/>
<polygon points="291.8,218.7 297.9,229.3 285.7,229.3" fill="#fff" stroke="#f60000" stroke-width="1.15" stroke-linejoin="miter"/>
<polygon points="288.4,219.0 294.5,229.6 282.3,229.6" fill="#fff" stroke="#f60000" stroke-width="1.15" stroke-linejoin="miter"/>
<polygon points="285.1,219.3 291.2,229.9 279.0,229.9" fill="#fff" stroke="#f60000" stroke-width="1.15" stroke-linejoin="miter"/>
<polygon points="281.7,219.7 287.8,230.3 275.6,230.3" fill="#fff" stroke="#f60000" stroke-width="1.15" stroke-linejoin="miter"/>
<polygon points="278.3,220.1 284.4,230.7 272.2,230.7" fill="#fff" stroke="#f60000" stroke-width="1.15" stroke-linejoin="miter"/>
<polygon points="274.9,220.6 281.0,231.2 268.8,231.2" fill="#fff" stroke="#f60000" stroke-width="1.15" stroke-linejoin="miter"/>
<polygon points="271.6,221.0 277.7,231.6 265.5,231.6" fill="#fff" stroke="#f60000" stroke-width="1.15" stroke-linejoin="miter"/>
<polygon points="268.2,221.5 274.3,232.1 262.1,232.1" fill="#fff" stroke="#f60000" stroke-width="1.15" stroke-linejoin="miter"/>
<polygon points="264.8,222.0 270.9,232.6 258.7,232.6" fill="#fff" stroke="#f60000" stroke-width="1.15" stroke-linejoin="miter"/>
<polygon points="261.5,222.5 267.6,233.1 255.4,233.1" fill="#fff" stroke="#f60000" stroke-width="1.15" stroke-linejoin="miter"/>
<polygon points="258.1,223.0 264.2,233.6 252.0,233.6" fill="#fff" stroke="#f60000" stroke-width="1.15" stroke-linejoin="miter"/>
<polygon points="254.8,223.7 260.9,234.3 248.7,234.3" fill="#fff" stroke="#f60000" stroke-width="1.15" stroke-linejoin="miter"/>
<polygon points="251.4,224.4 257.5,235.0 245.3,235.0" fill="#fff" stroke="#f60000" stroke-width="1.15" stroke-linejoin="miter"/>
<polygon points="248.1,225.1 254.2,235.7 242.0,235.7" fill="#fff" stroke="#f60000" stroke-width="1.15" stroke-linejoin="miter"/>
<polygon points="244.8,225.9 250.9,236.5 238.7,236.5" fill="#fff" stroke="#f60000" stroke-width="1.15" stroke-linejoin="miter"/>
<polygon points="241.5,226.6 247.6,237.2 235.4,237.2" fill="#fff" stroke="#f60000" stroke-width="1.15" stroke-linejoin="miter"/>
<polygon points="238.2,227.6 244.3,238.2 232.1,238.2" fill="#fff" stroke="#f60000" stroke-width="1.15" stroke-linejoin="miter"/>
<polygon points="235.1,228.9 241.2,239.5 229.0,239.5" fill="#fff" stroke="#f60000" stroke-width="1.15" stroke-linejoin="miter"/>
<polygon points="232.1,230.5 238.2,241.1 226.0,241.1" fill="#fff" stroke="#f60000" stroke-width="1.15" stroke-linejoin="miter"/>
<polygon points="229.3,232.4 235.4,243.0 223.2,243.0" fill="#fff" stroke="#f60000" stroke-width="1.15" stroke-linejoin="miter"/>
<polygon points="226.8,234.7 232.9,245.3 220.7,245.3" fill="#fff" stroke="#f60000" stroke-width="1.15" stroke-linejoin="miter"/>
<polygon points="224.9,237.5 231.0,248.1 218.8,248.1" fill="#fff" stroke="#f60000" stroke-width="1.15" stroke-linejoin="miter"/>
<polygon points="223.2,240.5 229.3,251.1 217.1,251.1" fill="#fff" stroke="#f60000" stroke-width="1.15" stroke-linejoin="miter"/>
<polygon points="222.4,241.8 228.5,252.4 216.3,252.4" fill="#fff" stroke="#f60000" stroke-width="1.15" stroke-linejoin="miter"/>
<polygon points="220.5,246.8 226.6,257.4 214.4,257.4" fill="#fff" stroke="#f60000" stroke-width="1.15" stroke-linejoin="miter"/>
<polygon points="220.6,252.3 226.7,262.9 214.5,262.9" fill="#fff" stroke="#f60000" stroke-width="1.15" stroke-linejoin="miter"/>
<polygon points="220.8,257.8 226.9,268.4 214.7,268.4" fill="#fff" stroke="#f60000" stroke-width="1.15" stroke-linejoin="miter"/>
<polygon points="219.3,263.1 225.4,273.7 213.2,273.7" fill="#fff" stroke="#f60000" stroke-width="1.15" stroke-linejoin="miter"/>
<polygon points="216.6,267.8 222.7,278.4 210.5,278.4" fill="#fff" stroke="#f60000" stroke-width="1.15" stroke-linejoin="miter"/>
<polygon points="212.6,271.6 218.7,282.2 206.5,282.2" fill="#fff" stroke="#f60000" stroke-width="1.15" stroke-linejoin="miter"/>
<polygon points="208.9,268.9 215.0,279.5 202.8,279.5" fill="#fff" stroke="#f60000" stroke-width="1.15" stroke-linejoin="miter"/>
<polygon points="209.0,263.4 215.1,274.0 202.9,274.0" fill="#fff" stroke="#f60000" stroke-width="1.15" stroke-linejoin="miter"/>
<polygon points="209.0,257.9 215.1,268.5 202.9,268.5" fill="#fff" stroke="#f60000" stroke-width="1.15" stroke-linejoin="miter"/>
<polygon points="208.9,252.4 215.0,263.0 202.8,263.0" fill="#fff" stroke="#f60000" stroke-width="1.15" stroke-linejoin="miter"/>
<polygon points="209.4,246.9 215.5,257.5 203.3,257.5" fill="#fff" stroke="#f60000" stroke-width="1.15" stroke-linejoin="miter"/>
<polygon points="210.0,242.9 216.1,253.5 203.9,253.5" fill="#fff" stroke="#f60000" stroke-width="1.15" stroke-linejoin="miter"/>
<polygon points="210.0,239.9 216.1,250.5 203.9,250.5" fill="#fff" stroke="#f60000" stroke-width="1.15" stroke-linejoin="miter"/>
<polygon points="210.0,236.9 216.1,247.5 203.9,247.5" fill="#fff" stroke="#f60000" stroke-width="1.15" stroke-linejoin="miter"/>
<polygon points="210.0,233.9 216.1,244.5 203.9,244.5" fill="#fff" stroke="#f60000" stroke-width="1.15" stroke-linejoin="miter"/>
<polygon points="210.0,230.9 216.1,241.5 203.9,241.5" fill="#fff" stroke="#f60000" stroke-width="1.15" stroke-linejoin="miter"/>
<polygon points="209.9,227.9 216.0,238.5 203.8,238.5" fill="#fff" stroke="#f60000" stroke-width="1.15" stroke-linejoin="miter"/>
<polygon points="210.0,224.9 216.1,235.5 203.9,235.5" fill="#fff" stroke="#f60000" stroke-width="1.15" stroke-linejoin="miter"/>
<polygon points="210.4,222.0 216.5,232.6 204.3,232.6" fill="#fff" stroke="#f60000" stroke-width="1.15" stroke-linejoin="miter"/>
<polygon points="211.0,219.0 217.1,229.6 204.9,229.6" fill="#fff" stroke="#f60000" stroke-width="1.15" stroke-linejoin="miter"/>
<rect x="203" y="227" width="14.5" height="24.5" fill="#f60000"/>
<polygon points="211.2,213.7 217.3,224.3 205.1,224.3" fill="#fff" stroke="#f60000" stroke-width="1.15" stroke-linejoin="miter"/>
<polygon points="219.2,212.9 225.3,223.5 213.1,223.5" fill="#fff" stroke="#f60000" stroke-width="1.15" stroke-linejoin="miter"/>
<polygon points="288.7,215.4 294.8,226.0 282.6,226.0" fill="#fff" stroke="#f60000" stroke-width="1.15" stroke-linejoin="miter"/>
<polygon points="290.0,213.4 296.1,224.0 283.9,224.0" fill="#fff" stroke="#f60000" stroke-width="1.15" stroke-linejoin="miter"/>
<polygon points="291.4,211.4 297.5,222.0 285.3,222.0" fill="#fff" stroke="#f60000" stroke-width="1.15" stroke-linejoin="miter"/>
<polygon points="292.7,209.5 298.8,220.1 286.6,220.1" fill="#fff" stroke="#f60000" stroke-width="1.15" stroke-linejoin="miter"/>
<polygon points="294.1,207.5 300.2,218.1 288.0,218.1" fill="#fff" stroke="#f60000" stroke-width="1.15" stroke-linejoin="miter"/>
<polygon points="295.4,205.5 301.5,216.1 289.3,216.1" fill="#fff" stroke="#f60000" stroke-width="1.15" stroke-linejoin="miter"/>
<polygon points="296.8,203.5 302.9,214.1 290.7,214.1" fill="#fff" stroke="#f60000" stroke-width="1.15" stroke-linejoin="miter"/>
<polygon points="298.2,201.6 304.3,212.2 292.1,212.2" fill="#fff" stroke="#f60000" stroke-width="1.15" stroke-linejoin="miter"/>
<polygon points="299.7,199.7 305.8,210.3 293.6,210.3" fill="#fff" stroke="#f60000" stroke-width="1.15" stroke-linejoin="miter"/>
<polygon points="301.3,197.9 307.4,208.5 295.2,208.5" fill="#fff" stroke="#f60000" stroke-width="1.15" stroke-linejoin="miter"/>
<polygon points="303.0,196.2 309.1,206.8 296.9,206.8" fill="#fff" stroke="#f60000" stroke-width="1.15" stroke-linejoin="miter"/>
<polygon points="304.9,194.8 311.0,205.4 298.8,205.4" fill="#fff" stroke="#f60000" stroke-width="1.15" stroke-linejoin="miter"/>
<polygon points="307.1,193.8 313.2,204.4 301.0,204.4" fill="#fff" stroke="#f60000" stroke-width="1.15" stroke-linejoin="miter"/>
<polygon points="309.5,193.4 315.6,204.0 303.4,204.0" fill="#fff" stroke="#f60000" stroke-width="1.15" stroke-linejoin="miter"/>
<polygon points="311.8,193.2 317.9,203.8 305.7,203.8" fill="#fff" stroke="#f60000" stroke-width="1.15" stroke-linejoin="miter"/>
<polygon points="314.2,193.0 320.3,203.6 308.1,203.6" fill="#fff" stroke="#f60000" stroke-width="1.15" stroke-linejoin="miter"/>
<polygon points="316.6,192.4 322.7,203.0 310.5,203.0" fill="#fff" stroke="#f60000" stroke-width="1.15" stroke-linejoin="miter"/>
<polygon points="318.8,191.5 324.9,202.1 312.7,202.1" fill="#fff" stroke="#f60000" stroke-width="1.15" stroke-linejoin="miter"/>
<polygon points="320.9,190.3 327.0,200.9 314.8,200.9" fill="#fff" stroke="#f60000" stroke-width="1.15" stroke-linejoin="miter"/>
<polygon points="322.6,188.7 328.7,199.3 316.5,199.3" fill="#fff" stroke="#f60000" stroke-width="1.15" stroke-linejoin="miter"/>
<polygon points="324.1,186.8 330.2,197.4 318.0,197.4" fill="#fff" stroke="#f60000" stroke-width="1.15" stroke-linejoin="miter"/>
<polygon points="325.5,184.9 331.6,195.5 319.4,195.5" fill="#fff" stroke="#f60000" stroke-width="1.15" stroke-linejoin="miter"/>
<polygon points="327.1,183.1 333.2,193.7 321.0,193.7" fill="#fff" stroke="#f60000" stroke-width="1.15" stroke-linejoin="miter"/>
<polygon points="328.6,181.2 334.7,191.8 322.5,191.8" fill="#fff" stroke="#f60000" stroke-width="1.15" stroke-linejoin="miter"/>
<polygon points="329.3,180.4 335.4,191.0 323.2,191.0" fill="#fff" stroke="#f60000" stroke-width="1.15" stroke-linejoin="miter"/>
<polygon points="331.5,182.1 337.6,192.7 325.4,192.7" fill="#fff" stroke="#f60000" stroke-width="1.15" stroke-linejoin="miter"/>
<polygon points="333.7,183.9 339.8,194.5 327.6,194.5" fill="#fff" stroke="#f60000" stroke-width="1.15" stroke-linejoin="miter"/>
<polygon points="335.6,186.0 341.7,196.6 329.5,196.6" fill="#fff" stroke="#f60000" stroke-width="1.15" stroke-linejoin="miter"/>
<polygon points="337.1,188.3 343.2,198.9 331.0,198.9" fill="#fff" stroke="#f60000" stroke-width="1.15" stroke-linejoin="miter"/>
<polygon points="338.5,190.8 344.6,201.4 332.4,201.4" fill="#fff" stroke="#f60000" stroke-width="1.15" stroke-linejoin="miter"/>
<polygon points="339.9,193.1 346.0,203.7 333.8,203.7" fill="#fff" stroke="#f60000" stroke-width="1.15" stroke-linejoin="miter"/>
<polygon points="341.6,195.4 347.7,206.0 335.5,206.0" fill="#fff" stroke="#f60000" stroke-width="1.15" stroke-linejoin="miter"/>
<polygon points="343.4,197.5 349.5,208.1 337.3,208.1" fill="#fff" stroke="#f60000" stroke-width="1.15" stroke-linejoin="miter"/>
<polygon points="345.3,199.6 351.4,210.2 339.2,210.2" fill="#fff" stroke="#f60000" stroke-width="1.15" stroke-linejoin="miter"/>
<polygon points="347.4,201.5 353.5,212.1 341.3,212.1" fill="#fff" stroke="#f60000" stroke-width="1.15" stroke-linejoin="miter"/>
<polygon points="349.7,203.1 355.8,213.7 343.6,213.7" fill="#fff" stroke="#f60000" stroke-width="1.15" stroke-linejoin="miter"/>
<polygon points="352.2,204.3 358.3,214.9 346.1,214.9" fill="#fff" stroke="#f60000" stroke-width="1.15" stroke-linejoin="miter"/>
<polygon points="354.8,205.4 360.9,216.0 348.7,216.0" fill="#fff" stroke="#f60000" stroke-width="1.15" stroke-linejoin="miter"/>
<polygon points="357.4,206.3 363.5,216.9 351.3,216.9" fill="#fff" stroke="#f60000" stroke-width="1.15" stroke-linejoin="miter"/>
<polygon points="360.0,207.2 366.1,217.8 353.9,217.8" fill="#fff" stroke="#f60000" stroke-width="1.15" stroke-linejoin="miter"/>
<polygon points="362.7,208.0 368.8,218.6 356.6,218.6" fill="#fff" stroke="#f60000" stroke-width="1.15" stroke-linejoin="miter"/>
<polygon points="365.4,208.7 371.5,219.3 359.3,219.3" fill="#fff" stroke="#f60000" stroke-width="1.15" stroke-linejoin="miter"/>
<polygon points="368.2,209.4 374.3,220.0 362.1,220.0" fill="#fff" stroke="#f60000" stroke-width="1.15" stroke-linejoin="miter"/>
<polygon points="370.9,209.9 377.0,220.5 364.8,220.5" fill="#fff" stroke="#f60000" stroke-width="1.15" stroke-linejoin="miter"/>
<polygon points="373.7,210.4 379.8,221.0 367.6,221.0" fill="#fff" stroke="#f60000" stroke-width="1.15" stroke-linejoin="miter"/>
<polygon points="376.5,210.8 382.6,221.4 370.4,221.4" fill="#fff" stroke="#f60000" stroke-width="1.15" stroke-linejoin="miter"/>
<polygon points="379.2,211.1 385.3,221.7 373.1,221.7" fill="#fff" stroke="#f60000" stroke-width="1.15" stroke-linejoin="miter"/>
<polygon points="382.0,211.5 388.1,222.1 375.9,222.1" fill="#fff" stroke="#f60000" stroke-width="1.15" stroke-linejoin="miter"/>
<polygon points="384.8,211.8 390.9,222.4 378.7,222.4" fill="#fff" stroke="#f60000" stroke-width="1.15" stroke-linejoin="miter"/>
<polygon points="387.6,212.0 393.7,222.6 381.5,222.6" fill="#fff" stroke="#f60000" stroke-width="1.15" stroke-linejoin="miter"/>
<polygon points="390.4,212.3 396.5,222.9 384.3,222.9" fill="#fff" stroke="#f60000" stroke-width="1.15" stroke-linejoin="miter"/>
<polygon points="393.2,212.5 399.3,223.1 387.1,223.1" fill="#fff" stroke="#f60000" stroke-width="1.15" stroke-linejoin="miter"/>
<polygon points="396.0,212.7 402.1,223.3 389.9,223.3" fill="#fff" stroke="#f60000" stroke-width="1.15" stroke-linejoin="miter"/>
<polygon points="398.7,213.0 404.8,223.6 392.6,223.6" fill="#fff" stroke="#f60000" stroke-width="1.15" stroke-linejoin="miter"/>
<polygon points="401.5,213.2 407.6,223.8 395.4,223.8" fill="#fff" stroke="#f60000" stroke-width="1.15" stroke-linejoin="miter"/>
<polygon points="404.3,213.4 410.4,224.0 398.2,224.0" fill="#fff" stroke="#f60000" stroke-width="1.15" stroke-linejoin="miter"/>
<polygon points="407.1,213.6 413.2,224.2 401.0,224.2" fill="#fff" stroke="#f60000" stroke-width="1.15" stroke-linejoin="miter"/>
<polygon points="409.9,213.7 416.0,224.3 403.8,224.3" fill="#fff" stroke="#f60000" stroke-width="1.15" stroke-linejoin="miter"/>
<polygon points="412.7,213.8 418.8,224.4 406.6,224.4" fill="#fff" stroke="#f60000" stroke-width="1.15" stroke-linejoin="miter"/>
<polygon points="415.5,213.9 421.6,224.5 409.4,224.5" fill="#fff" stroke="#f60000" stroke-width="1.15" stroke-linejoin="miter"/>
<polygon points="418.3,214.0 424.4,224.6 412.2,224.6" fill="#fff" stroke="#f60000" stroke-width="1.15" stroke-linejoin="miter"/>
<polygon points="421.1,214.1 427.2,224.7 415.0,224.7" fill="#fff" stroke="#f60000" stroke-width="1.15" stroke-linejoin="miter"/>
<polygon points="423.9,214.1 430.0,224.7 417.8,224.7" fill="#fff" stroke="#f60000" stroke-width="1.15" stroke-linejoin="miter"/>
<polygon points="426.7,214.2 432.8,224.8 420.6,224.8" fill="#fff" stroke="#f60000" stroke-width="1.15" stroke-linejoin="miter"/>
<polygon points="429.5,214.2 435.6,224.8 423.4,224.8" fill="#fff" stroke="#f60000" stroke-width="1.15" stroke-linejoin="miter"/>
<polygon points="430.0,212.9 436.1,223.5 423.9,223.5" fill="#fff" stroke="#f60000" stroke-width="1.15" stroke-linejoin="miter"/>
<polygon points="435.6,212.9 441.7,223.5 429.5,223.5" fill="#fff" stroke="#f60000" stroke-width="1.15" stroke-linejoin="miter"/>
<polygon points="441.2,212.8 447.3,223.4 435.1,223.4" fill="#fff" stroke="#f60000" stroke-width="1.15" stroke-linejoin="miter"/>
<polygon points="446.8,212.8 452.9,223.4 440.7,223.4" fill="#fff" stroke="#f60000" stroke-width="1.15" stroke-linejoin="miter"/>
<polygon points="452.4,212.7 458.5,223.3 446.3,223.3" fill="#fff" stroke="#f60000" stroke-width="1.15" stroke-linejoin="miter"/>
<polygon points="458.0,212.7 464.1,223.3 451.9,223.3" fill="#fff" stroke="#f60000" stroke-width="1.15" stroke-linejoin="miter"/>
<polygon points="463.6,212.7 469.7,223.3 457.5,223.3" fill="#fff" stroke="#f60000" stroke-width="1.15" stroke-linejoin="miter"/>
<polygon points="469.2,212.6 475.3,223.2 463.1,223.2" fill="#fff" stroke="#f60000" stroke-width="1.15" stroke-linejoin="miter"/>
<polygon points="474.8,212.6 480.9,223.2 468.7,223.2" fill="#fff" stroke="#f60000" stroke-width="1.15" stroke-linejoin="miter"/>
<polygon points="480.4,212.5 486.5,223.1 474.3,223.1" fill="#fff" stroke="#f60000" stroke-width="1.15" stroke-linejoin="miter"/>
<polygon points="486.0,212.5 492.1,223.1 479.9,223.1" fill="#fff" stroke="#f60000" stroke-width="1.15" stroke-linejoin="miter"/>
<polygon points="491.6,212.5 497.7,223.1 485.5,223.1" fill="#fff" stroke="#f60000" stroke-width="1.15" stroke-linejoin="miter"/>
<polygon points="497.2,212.4 503.3,223.0 491.1,223.0" fill="#fff" stroke="#f60000" stroke-width="1.15" stroke-linejoin="miter"/>
<polygon points="502.8,212.4 508.9,223.0 496.7,223.0" fill="#fff" stroke="#f60000" stroke-width="1.15" stroke-linejoin="miter"/>
<polygon points="508.4,212.4 514.5,223.0 502.3,223.0" fill="#fff" stroke="#f60000" stroke-width="1.15" stroke-linejoin="miter"/>
<polygon points="514.0,212.4 520.1,223.0 507.9,223.0" fill="#fff" stroke="#f60000" stroke-width="1.15" stroke-linejoin="miter"/>
<polygon points="519.6,212.4 525.7,223.0 513.5,223.0" fill="#fff" stroke="#f60000" stroke-width="1.15" stroke-linejoin="miter"/>
<polygon points="525.2,212.4 531.3,223.0 519.1,223.0" fill="#fff" stroke="#f60000" stroke-width="1.15" stroke-linejoin="miter"/>
<polygon points="530.8,212.3 536.9,222.9 524.7,222.9" fill="#fff" stroke="#f60000" stroke-width="1.15" stroke-linejoin="miter"/>
<polygon points="536.4,212.3 542.5,222.9 530.3,222.9" fill="#fff" stroke="#f60000" stroke-width="1.15" stroke-linejoin="miter"/>
<polygon points="542.0,212.3 548.1,222.9 535.9,222.9" fill="#fff" stroke="#f60000" stroke-width="1.15" stroke-linejoin="miter"/>
<polygon points="547.6,212.3 553.7,222.9 541.5,222.9" fill="#fff" stroke="#f60000" stroke-width="1.15" stroke-linejoin="miter"/>
<polygon points="553.2,212.3 559.3,222.9 547.1,222.9" fill="#fff" stroke="#f60000" stroke-width="1.15" stroke-linejoin="miter"/>
<polygon points="558.8,212.3 564.9,222.9 552.7,222.9" fill="#fff" stroke="#f60000" stroke-width="1.15" stroke-linejoin="miter"/>
<polygon points="564.4,212.3 570.5,222.9 558.3,222.9" fill="#fff" stroke="#f60000" stroke-width="1.15" stroke-linejoin="miter"/>
<polygon points="570.0,212.3 576.1,222.9 563.9,222.9" fill="#fff" stroke="#f60000" stroke-width="1.15" stroke-linejoin="miter"/>
<polygon points="575.6,212.3 581.7,222.9 569.5,222.9" fill="#fff" stroke="#f60000" stroke-width="1.15" stroke-linejoin="miter"/>
<polygon points="581.2,212.3 587.3,222.9 575.1,222.9" fill="#fff" stroke="#f60000" stroke-width="1.15" stroke-linejoin="miter"/>
<polygon points="586.8,212.3 592.9,222.9 580.7,222.9" fill="#fff" stroke="#f60000" stroke-width="1.15" stroke-linejoin="miter"/>
<polygon points="592.4,212.2 598.5,222.8 586.3,222.8" fill="#fff" stroke="#f60000" stroke-width="1.15" stroke-linejoin="miter"/>
<polygon points="598.0,212.2 604.1,222.8 591.9,222.8" fill="#fff" stroke="#f60000" stroke-width="1.15" stroke-linejoin="miter"/>
<polygon points="603.6,212.2 609.7,222.8 597.5,222.8" fill="#fff" stroke="#f60000" stroke-width="1.15" stroke-linejoin="miter"/>
<polygon points="609.2,212.2 615.3,222.8 603.1,222.8" fill="#fff" stroke="#f60000" stroke-width="1.15" stroke-linejoin="miter"/>
<polygon points="614.8,212.2 620.9,222.8 608.7,222.8" fill="#fff" stroke="#f60000" stroke-width="1.15" stroke-linejoin="miter"/>
<polygon points="620.4,212.2 626.5,222.8 614.3,222.8" fill="#fff" stroke="#f60000" stroke-width="1.15" stroke-linejoin="miter"/>
<polygon points="626.0,212.2 632.1,222.8 619.9,222.8" fill="#fff" stroke="#f60000" stroke-width="1.15" stroke-linejoin="miter"/>
<polygon points="631.6,212.2 637.7,222.8 625.5,222.8" fill="#fff" stroke="#f60000" stroke-width="1.15" stroke-linejoin="miter"/>
<polygon points="637.2,212.2 643.3,222.8 631.1,222.8" fill="#fff" stroke="#f60000" stroke-width="1.15" stroke-linejoin="miter"/>
<polygon points="642.8,212.1 648.9,222.7 636.7,222.7" fill="#fff" stroke="#f60000" stroke-width="1.15" stroke-linejoin="miter"/>
<polygon points="648.4,212.1 654.5,222.7 642.3,222.7" fill="#fff" stroke="#f60000" stroke-width="1.15" stroke-linejoin="miter"/>
<polygon points="654.0,212.1 660.1,222.7 647.9,222.7" fill="#fff" stroke="#f60000" stroke-width="1.15" stroke-linejoin="miter"/>
<polygon points="659.6,212.1 665.7,222.7 653.5,222.7" fill="#fff" stroke="#f60000" stroke-width="1.15" stroke-linejoin="miter"/>
<polygon points="665.2,212.1 671.3,222.7 659.1,222.7" fill="#fff" stroke="#f60000" stroke-width="1.15" stroke-linejoin="miter"/>
<polygon points="670.8,212.1 676.9,222.7 664.7,222.7" fill="#fff" stroke="#f60000" stroke-width="1.15" stroke-linejoin="miter"/>
<polygon points="676.4,212.1 682.5,222.7 670.3,222.7" fill="#fff" stroke="#f60000" stroke-width="1.15" stroke-linejoin="miter"/>
<polygon points="682.0,212.1 688.1,222.7 675.9,222.7" fill="#fff" stroke="#f60000" stroke-width="1.15" stroke-linejoin="miter"/>
<polygon points="687.6,212.0 693.7,222.6 681.5,222.6" fill="#fff" stroke="#f60000" stroke-width="1.15" stroke-linejoin="miter"/>
</g>
<rect x="883.60" y="16.00" width="589.40" height="392.60" fill="none" stroke="#000" stroke-width="2.10" stroke-linejoin="round"/>
<line x1="916.20" y1="408.60" x2="916.20" y2="400.80" stroke="#000" stroke-width="2.00" stroke-linecap="butt"/>
<line x1="981.80" y1="408.60" x2="981.80" y2="400.80" stroke="#000" stroke-width="2.00" stroke-linecap="butt"/>
<line x1="1047.40" y1="408.60" x2="1047.40" y2="400.80" stroke="#000" stroke-width="2.00" stroke-linecap="butt"/>
<line x1="1113.00" y1="408.60" x2="1113.00" y2="400.80" stroke="#000" stroke-width="2.00" stroke-linecap="butt"/>
<line x1="1178.60" y1="408.60" x2="1178.60" y2="400.80" stroke="#000" stroke-width="2.00" stroke-linecap="butt"/>
<line x1="1244.20" y1="408.60" x2="1244.20" y2="400.80" stroke="#000" stroke-width="2.00" stroke-linecap="butt"/>
<line x1="1309.80" y1="408.60" x2="1309.80" y2="400.80" stroke="#000" stroke-width="2.00" stroke-linecap="butt"/>
<line x1="1375.40" y1="408.60" x2="1375.40" y2="400.80" stroke="#000" stroke-width="2.00" stroke-linecap="butt"/>
<line x1="1441.00" y1="408.60" x2="1441.00" y2="400.80" stroke="#000" stroke-width="2.00" stroke-linecap="butt"/>
<line x1="949.00" y1="408.60" x2="949.00" y2="404.80" stroke="#000" stroke-width="2.00" stroke-linecap="butt"/>
<line x1="1014.60" y1="408.60" x2="1014.60" y2="404.80" stroke="#000" stroke-width="2.00" stroke-linecap="butt"/>
<line x1="1080.20" y1="408.60" x2="1080.20" y2="404.80" stroke="#000" stroke-width="2.00" stroke-linecap="butt"/>
<line x1="1145.80" y1="408.60" x2="1145.80" y2="404.80" stroke="#000" stroke-width="2.00" stroke-linecap="butt"/>
<line x1="1211.40" y1="408.60" x2="1211.40" y2="404.80" stroke="#000" stroke-width="2.00" stroke-linecap="butt"/>
<line x1="1277.00" y1="408.60" x2="1277.00" y2="404.80" stroke="#000" stroke-width="2.00" stroke-linecap="butt"/>
<line x1="1342.60" y1="408.60" x2="1342.60" y2="404.80" stroke="#000" stroke-width="2.00" stroke-linecap="butt"/>
<line x1="1408.20" y1="408.60" x2="1408.20" y2="404.80" stroke="#000" stroke-width="2.00" stroke-linecap="butt"/>
<line x1="883.60" y1="343.17" x2="891.60" y2="343.17" stroke="#000" stroke-width="2.00" stroke-linecap="butt"/>
<line x1="883.60" y1="277.74" x2="891.60" y2="277.74" stroke="#000" stroke-width="2.00" stroke-linecap="butt"/>
<line x1="883.60" y1="212.30" x2="891.60" y2="212.30" stroke="#000" stroke-width="2.00" stroke-linecap="butt"/>
<line x1="883.60" y1="146.87" x2="891.60" y2="146.87" stroke="#000" stroke-width="2.00" stroke-linecap="butt"/>
<line x1="883.60" y1="81.43" x2="891.60" y2="81.43" stroke="#000" stroke-width="2.00" stroke-linecap="butt"/>
<line x1="883.60" y1="375.89" x2="887.60" y2="375.89" stroke="#000" stroke-width="2.00" stroke-linecap="butt"/>
<line x1="883.60" y1="310.45" x2="887.60" y2="310.45" stroke="#000" stroke-width="2.00" stroke-linecap="butt"/>
<line x1="883.60" y1="245.02" x2="887.60" y2="245.02" stroke="#000" stroke-width="2.00" stroke-linecap="butt"/>
<line x1="883.60" y1="179.58" x2="887.60" y2="179.58" stroke="#000" stroke-width="2.00" stroke-linecap="butt"/>
<line x1="883.60" y1="114.15" x2="887.60" y2="114.15" stroke="#000" stroke-width="2.00" stroke-linecap="butt"/>
<line x1="883.60" y1="48.71" x2="887.60" y2="48.71" stroke="#000" stroke-width="2.00" stroke-linecap="butt"/>
<text transform="translate(826.76,22.20) scale(1.0600,1)" font-size="22.40" font-weight="bold" fill="#000">1500</text>
<text transform="translate(826.76,87.63) scale(1.0600,1)" font-size="22.40" font-weight="bold" fill="#000">1000</text>
<text transform="translate(838.63,153.06) scale(1.0600,1)" font-size="22.40" font-weight="bold" fill="#000">500</text>
<text transform="translate(862.38,218.50) scale(1.0600,1)" font-size="22.40" font-weight="bold" fill="#000">0</text>
<text transform="translate(830.80,283.94) scale(1.0600,1)" font-size="22.40" font-weight="bold" fill="#000">-500</text>
<text transform="translate(818.93,349.37) scale(1.0600,1)" font-size="22.40" font-weight="bold" fill="#000">-1000</text>
<text transform="translate(818.93,414.81) scale(1.0600,1)" font-size="22.40" font-weight="bold" fill="#000">-1500</text>
<text transform="translate(897.00,433.40) scale(1.0700,1)" font-size="22.00" font-weight="bold" fill="#000">-0.5</text>
<text transform="translate(967.09,433.40) scale(1.0700,1)" font-size="22.00" font-weight="bold" fill="#000">0.0</text>
<text transform="translate(1032.69,433.40) scale(1.0700,1)" font-size="22.00" font-weight="bold" fill="#000">0.5</text>
<text transform="translate(1097.82,433.40) scale(1.0700,1)" font-size="22.00" font-weight="bold" fill="#000">1.0</text>
<text transform="translate(1163.42,433.40) scale(1.0700,1)" font-size="22.00" font-weight="bold" fill="#000">1.5</text>
<text transform="translate(1229.49,433.40) scale(1.0700,1)" font-size="22.00" font-weight="bold" fill="#000">2.0</text>
<text transform="translate(1295.09,433.40) scale(1.0700,1)" font-size="22.00" font-weight="bold" fill="#000">2.5</text>
<text transform="translate(1360.69,433.40) scale(1.0700,1)" font-size="22.00" font-weight="bold" fill="#000">3.0</text>
<text transform="translate(1426.29,433.40) scale(1.0700,1)" font-size="22.00" font-weight="bold" fill="#000">3.5</text>
<text transform="translate(1024.45,468.70) scale(1.1148,1)" font-size="31.40" font-weight="bold" fill="#000">Voltage / V vs. Li/Li</text>
<text transform="translate(1319.64,452.40) scale(1.1258,1)" font-size="20.60" font-weight="normal" fill="#000">+</text>
<text transform="translate(812.00,348.30) scale(1.1000,1) rotate(-90)" font-size="32.00" font-weight="bold" fill="#000">dQ/dV / mAhg</text>
<text transform="translate(792.50,147.15) scale(0.9500,1) rotate(-90)" font-size="17.00" font-weight="bold" fill="#000">-1</text>
<text transform="translate(812.00,132.19) scale(1.1000,1) rotate(-90)" font-size="32.00" font-weight="bold" fill="#000">V</text>
<text transform="translate(792.50,108.28) scale(0.9500,1) rotate(-90)" font-size="17.00" font-weight="bold" fill="#000">-1</text>
<text transform="translate(904.41,75.00) scale(1.1064,1)" font-size="53.70" font-weight="bold" fill="#000">b</text>
<line x1="1226.10" y1="40.70" x2="1292.60" y2="40.70" stroke="#000" stroke-width="1.80" stroke-linecap="butt"/>
<circle cx="1259.1" cy="40.7" r="6.40" fill="#fff" stroke="#000" stroke-width="1.30"/>
<line x1="1226.10" y1="74.40" x2="1292.60" y2="74.40" stroke="#f60000" stroke-width="1.80" stroke-linecap="butt"/>
<polygon points="1259.3,66.7 1267.0,78.5 1251.5,78.5" fill="#fff" stroke="#f60000" stroke-width="1.30" stroke-linejoin="miter"/>
<text transform="translate(1301.01,50.20) scale(1.0901,1)" font-size="27.00" font-weight="bold" fill="#000">FLG: 0.1 C</text>
<text transform="translate(1301.01,83.40) scale(1.0954,1)" font-size="27.00" font-weight="bold" fill="#000">FLG: 5 C</text>
<g id="bdata" clip-path="url(#clipb)">
<circle cx="1441.0" cy="213.5" r="6.40" fill="#fff" stroke="#000" stroke-width="1.30"/>
<circle cx="1435.0" cy="213.5" r="6.40" fill="#fff" stroke="#000" stroke-width="1.30"/>
<circle cx="1429.0" cy="213.5" r="6.40" fill="#fff" stroke="#000" stroke-width="1.30"/>
<circle cx="1423.0" cy="213.5" r="6.40" fill="#fff" stroke="#000" stroke-width="1.30"/>
<circle cx="1417.0" cy="213.5" r="6.40" fill="#fff" stroke="#000" stroke-width="1.30"/>
<circle cx="1411.0" cy="213.5" r="6.40" fill="#fff" stroke="#000" stroke-width="1.30"/>
<circle cx="1405.0" cy="213.5" r="6.40" fill="#fff" stroke="#000" stroke-width="1.30"/>
<circle cx="1399.0" cy="213.5" r="6.40" fill="#fff" stroke="#000" stroke-width="1.30"/>
<circle cx="1393.0" cy="213.5" r="6.40" fill="#fff" stroke="#000" stroke-width="1.30"/>
<circle cx="1387.0" cy="213.5" r="6.40" fill="#fff" stroke="#000" stroke-width="1.30"/>
<circle cx="1381.0" cy="213.5" r="6.40" fill="#fff" stroke="#000" stroke-width="1.30"/>
<circle cx="1375.0" cy="213.5" r="6.40" fill="#fff" stroke="#000" stroke-width="1.30"/>
<circle cx="1369.0" cy="213.5" r="6.40" fill="#fff" stroke="#000" stroke-width="1.30"/>
<circle cx="1363.0" cy="213.5" r="6.40" fill="#fff" stroke="#000" stroke-width="1.30"/>
<circle cx="1357.0" cy="213.5" r="6.40" fill="#fff" stroke="#000" stroke-width="1.30"/>
<circle cx="1351.0" cy="213.5" r="6.40" fill="#fff" stroke="#000" stroke-width="1.30"/>
<circle cx="1345.0" cy="213.5" r="6.40" fill="#fff" stroke="#000" stroke-width="1.30"/>
<circle cx="1339.0" cy="213.5" r="6.40" fill="#fff" stroke="#000" stroke-width="1.30"/>
<circle cx="1333.0" cy="213.5" r="6.40" fill="#fff" stroke="#000" stroke-width="1.30"/>
<circle cx="1327.0" cy="213.5" r="6.40" fill="#fff" stroke="#000" stroke-width="1.30"/>
<circle cx="1321.0" cy="213.5" r="6.40" fill="#fff" stroke="#000" stroke-width="1.30"/>
<circle cx="1315.0" cy="213.5" r="6.40" fill="#fff" stroke="#000" stroke-width="1.30"/>
<circle cx="1309.0" cy="213.5" r="6.40" fill="#fff" stroke="#000" stroke-width="1.30"/>
<circle cx="1303.0" cy="213.5" r="6.40" fill="#fff" stroke="#000" stroke-width="1.30"/>
<circle cx="1297.0" cy="213.5" r="6.40" fill="#fff" stroke="#000" stroke-width="1.30"/>
<circle cx="1291.0" cy="213.5" r="6.40" fill="#fff" stroke="#000" stroke-width="1.30"/>
<circle cx="1285.0" cy="213.5" r="6.40" fill="#fff" stroke="#000" stroke-width="1.30"/>
<circle cx="1279.0" cy="213.5" r="6.40" fill="#fff" stroke="#000" stroke-width="1.30"/>
<circle cx="1273.0" cy="213.5" r="6.40" fill="#fff" stroke="#000" stroke-width="1.30"/>
<circle cx="1267.0" cy="213.5" r="6.40" fill="#fff" stroke="#000" stroke-width="1.30"/>
<circle cx="1261.0" cy="213.5" r="6.40" fill="#fff" stroke="#000" stroke-width="1.30"/>
<circle cx="1255.0" cy="213.5" r="6.40" fill="#fff" stroke="#000" stroke-width="1.30"/>
<circle cx="1249.0" cy="213.5" r="6.40" fill="#fff" stroke="#000" stroke-width="1.30"/>
<circle cx="1243.0" cy="213.5" r="6.40" fill="#fff" stroke="#000" stroke-width="1.30"/>
<circle cx="1237.0" cy="213.5" r="6.40" fill="#fff" stroke="#000" stroke-width="1.30"/>
<circle cx="1231.0" cy="213.5" r="6.40" fill="#fff" stroke="#000" stroke-width="1.30"/>
<circle cx="1225.0" cy="213.5" r="6.40" fill="#fff" stroke="#000" stroke-width="1.30"/>
<circle cx="1219.0" cy="213.5" r="6.40" fill="#fff" stroke="#000" stroke-width="1.30"/>
<circle cx="1213.0" cy="213.5" r="6.40" fill="#fff" stroke="#000" stroke-width="1.30"/>
<circle cx="1207.0" cy="213.5" r="6.40" fill="#fff" stroke="#000" stroke-width="1.30"/>
<circle cx="1201.0" cy="213.5" r="6.40" fill="#fff" stroke="#000" stroke-width="1.30"/>
<circle cx="1195.0" cy="213.5" r="6.40" fill="#fff" stroke="#000" stroke-width="1.30"/>
<circle cx="1189.0" cy="213.5" r="6.40" fill="#fff" stroke="#000" stroke-width="1.30"/>
<circle cx="1183.0" cy="213.5" r="6.40" fill="#fff" stroke="#000" stroke-width="1.30"/>
<circle cx="1177.0" cy="213.5" r="6.40" fill="#fff" stroke="#000" stroke-width="1.30"/>
<circle cx="1171.0" cy="213.6" r="6.40" fill="#fff" stroke="#000" stroke-width="1.30"/>
<circle cx="1165.0" cy="213.6" r="6.40" fill="#fff" stroke="#000" stroke-width="1.30"/>
<circle cx="1159.0" cy="213.6" r="6.40" fill="#fff" stroke="#000" stroke-width="1.30"/>
<circle cx="1153.0" cy="213.6" r="6.40" fill="#fff" stroke="#000" stroke-width="1.30"/>
<circle cx="1147.0" cy="213.6" r="6.40" fill="#fff" stroke="#000" stroke-width="1.30"/>
<circle cx="1141.0" cy="213.7" r="6.40" fill="#fff" stroke="#000" stroke-width="1.30"/>
<circle cx="1135.0" cy="213.7" r="6.40" fill="#fff" stroke="#000" stroke-width="1.30"/>
<circle cx="1129.0" cy="213.7" r="6.40" fill="#fff" stroke="#000" stroke-width="1.30"/>
<circle cx="1123.0" cy="213.8" r="6.40" fill="#fff" stroke="#000" stroke-width="1.30"/>
<circle cx="1117.0" cy="213.8" r="6.40" fill="#fff" stroke="#000" stroke-width="1.30"/>
<circle cx="1111.0" cy="213.9" r="6.40" fill="#fff" stroke="#000" stroke-width="1.30"/>
<circle cx="1105.0" cy="214.0" r="6.40" fill="#fff" stroke="#000" stroke-width="1.30"/>
<circle cx="1099.0" cy="214.0" r="6.40" fill="#fff" stroke="#000" stroke-width="1.30"/>
<circle cx="1093.0" cy="214.1" r="6.40" fill="#fff" stroke="#000" stroke-width="1.30"/>
<circle cx="1087.0" cy="214.2" r="6.40" fill="#fff" stroke="#000" stroke-width="1.30"/>
<circle cx="1081.0" cy="214.3" r="6.40" fill="#fff" stroke="#000" stroke-width="1.30"/>
<circle cx="1075.0" cy="214.4" r="6.40" fill="#fff" stroke="#000" stroke-width="1.30"/>
<circle cx="1070.0" cy="214.5" r="6.40" fill="#fff" stroke="#000" stroke-width="1.30"/>
<circle cx="1063.1" cy="215.8" r="6.40" fill="#fff" stroke="#000" stroke-width="1.30"/>
<circle cx="1056.3" cy="217.3" r="6.40" fill="#fff" stroke="#000" stroke-width="1.30"/>
<circle cx="1049.6" cy="219.2" r="6.40" fill="#fff" stroke="#000" stroke-width="1.30"/>
<circle cx="1043.6" cy="222.9" r="6.40" fill="#fff" stroke="#000" stroke-width="1.30"/>
<circle cx="1037.7" cy="226.5" r="6.40" fill="#fff" stroke="#000" stroke-width="1.30"/>
<circle cx="1031.7" cy="230.2" r="6.40" fill="#fff" stroke="#000" stroke-width="1.30"/>
<circle cx="1026.5" cy="234.9" r="6.40" fill="#fff" stroke="#000" stroke-width="1.30"/>
<circle cx="1022.1" cy="240.3" r="6.40" fill="#fff" stroke="#000" stroke-width="1.30"/>
<circle cx="1018.6" cy="246.4" r="6.40" fill="#fff" stroke="#000" stroke-width="1.30"/>
<circle cx="1016.5" cy="253.0" r="6.40" fill="#fff" stroke="#000" stroke-width="1.30"/>
<circle cx="1015.0" cy="259.8" r="6.40" fill="#fff" stroke="#000" stroke-width="1.30"/>
<circle cx="1013.2" cy="266.6" r="6.40" fill="#fff" stroke="#000" stroke-width="1.30"/>
<circle cx="1011.7" cy="273.5" r="6.40" fill="#fff" stroke="#000" stroke-width="1.30"/>
<circle cx="1010.7" cy="280.4" r="6.40" fill="#fff" stroke="#000" stroke-width="1.30"/>
<circle cx="1009.2" cy="287.2" r="6.40" fill="#fff" stroke="#000" stroke-width="1.30"/>
<circle cx="1007.7" cy="294.0" r="6.40" fill="#fff" stroke="#000" stroke-width="1.30"/>
<circle cx="1007.2" cy="301.0" r="6.40" fill="#fff" stroke="#000" stroke-width="1.30"/>
<circle cx="1007.4" cy="308.0" r="6.40" fill="#fff" stroke="#000" stroke-width="1.30"/>
<circle cx="1007.2" cy="315.0" r="6.40" fill="#fff" stroke="#000" stroke-width="1.30"/>
<circle cx="1006.5" cy="322.0" r="6.40" fill="#fff" stroke="#000" stroke-width="1.30"/>
<circle cx="1006.0" cy="329.0" r="6.40" fill="#fff" stroke="#000" stroke-width="1.30"/>
<circle cx="1005.7" cy="336.0" r="6.40" fill="#fff" stroke="#000" stroke-width="1.30"/>
<circle cx="1005.2" cy="342.9" r="6.40" fill="#fff" stroke="#000" stroke-width="1.30"/>
<circle cx="1004.8" cy="349.9" r="6.40" fill="#fff" stroke="#000" stroke-width="1.30"/>
<circle cx="1004.4" cy="356.9" r="6.40" fill="#fff" stroke="#000" stroke-width="1.30"/>
<circle cx="1003.9" cy="363.9" r="6.40" fill="#fff" stroke="#000" stroke-width="1.30"/>
<circle cx="1000.6" cy="369.8" r="6.40" fill="#fff" stroke="#000" stroke-width="1.30"/>
<circle cx="999.0" cy="371.0" r="6.40" fill="#fff" stroke="#000" stroke-width="1.30"/>
<circle cx="993.5" cy="371.4" r="6.40" fill="#fff" stroke="#000" stroke-width="1.30"/>
<circle cx="992.0" cy="365.7" r="6.40" fill="#fff" stroke="#000" stroke-width="1.30"/>
<circle cx="991.3" cy="359.7" r="6.40" fill="#fff" stroke="#000" stroke-width="1.30"/>
<circle cx="991.0" cy="353.7" r="6.40" fill="#fff" stroke="#000" stroke-width="1.30"/>
<circle cx="991.0" cy="347.7" r="6.40" fill="#fff" stroke="#000" stroke-width="1.30"/>
<circle cx="991.0" cy="341.7" r="6.40" fill="#fff" stroke="#000" stroke-width="1.30"/>
<circle cx="990.5" cy="335.7" r="6.40" fill="#fff" stroke="#000" stroke-width="1.30"/>
<circle cx="989.9" cy="329.8" r="6.40" fill="#fff" stroke="#000" stroke-width="1.30"/>
<circle cx="989.4" cy="323.8" r="6.40" fill="#fff" stroke="#000" stroke-width="1.30"/>
<circle cx="988.9" cy="317.8" r="6.40" fill="#fff" stroke="#000" stroke-width="1.30"/>
<circle cx="988.5" cy="311.8" r="6.40" fill="#fff" stroke="#000" stroke-width="1.30"/>
<circle cx="988.0" cy="305.9" r="6.40" fill="#fff" stroke="#000" stroke-width="1.30"/>
<circle cx="987.1" cy="299.9" r="6.40" fill="#fff" stroke="#000" stroke-width="1.30"/>
<circle cx="986.1" cy="294.0" r="6.40" fill="#fff" stroke="#000" stroke-width="1.30"/>
<circle cx="985.1" cy="288.1" r="6.40" fill="#fff" stroke="#000" stroke-width="1.30"/>
<circle cx="984.0" cy="282.2" r="6.40" fill="#fff" stroke="#000" stroke-width="1.30"/>
<circle cx="982.6" cy="276.4" r="6.40" fill="#fff" stroke="#000" stroke-width="1.30"/>
<circle cx="981.5" cy="270.5" r="6.40" fill="#fff" stroke="#000" stroke-width="1.30"/>
<circle cx="981.2" cy="264.5" r="6.40" fill="#fff" stroke="#000" stroke-width="1.30"/>
<circle cx="981.3" cy="258.5" r="6.40" fill="#fff" stroke="#000" stroke-width="1.30"/>
<circle cx="981.3" cy="252.5" r="6.40" fill="#fff" stroke="#000" stroke-width="1.30"/>
<circle cx="981.2" cy="246.5" r="6.40" fill="#fff" stroke="#000" stroke-width="1.30"/>
<circle cx="981.3" cy="240.5" r="6.40" fill="#fff" stroke="#000" stroke-width="1.30"/>
<circle cx="981.4" cy="234.5" r="6.40" fill="#fff" stroke="#000" stroke-width="1.30"/>
<circle cx="981.7" cy="228.5" r="6.40" fill="#fff" stroke="#000" stroke-width="1.30"/>
<circle cx="982.0" cy="222.5" r="6.40" fill="#fff" stroke="#000" stroke-width="1.30"/>
<circle cx="981.3" cy="204.0" r="6.40" fill="#fff" stroke="#000" stroke-width="1.30"/>
<circle cx="983.7" cy="193.3" r="6.40" fill="#fff" stroke="#000" stroke-width="1.30"/>
<circle cx="985.4" cy="182.4" r="6.40" fill="#fff" stroke="#000" stroke-width="1.30"/>
<circle cx="987.0" cy="171.5" r="6.40" fill="#fff" stroke="#000" stroke-width="1.30"/>
<circle cx="988.4" cy="160.6" r="6.40" fill="#fff" stroke="#000" stroke-width="1.30"/>
<circle cx="989.6" cy="149.7" r="6.40" fill="#fff" stroke="#000" stroke-width="1.30"/>
<circle cx="991.6" cy="138.9" r="6.40" fill="#fff" stroke="#000" stroke-width="1.30"/>
<circle cx="993.4" cy="128.0" r="6.40" fill="#fff" stroke="#000" stroke-width="1.30"/>
<circle cx="994.9" cy="117.1" r="6.40" fill="#fff" stroke="#000" stroke-width="1.30"/>
<circle cx="994.8" cy="107.4" r="6.40" fill="#fff" stroke="#000" stroke-width="1.30"/>
<circle cx="994.8" cy="104.4" r="6.40" fill="#fff" stroke="#000" stroke-width="1.30"/>
<circle cx="994.8" cy="101.4" r="6.40" fill="#fff" stroke="#000" stroke-width="1.30"/>
<circle cx="994.8" cy="98.4" r="6.40" fill="#fff" stroke="#000" stroke-width="1.30"/>
<circle cx="994.8" cy="95.4" r="6.40" fill="#fff" stroke="#000" stroke-width="1.30"/>
<circle cx="994.8" cy="92.4" r="6.40" fill="#fff" stroke="#000" stroke-width="1.30"/>
<circle cx="994.8" cy="89.4" r="6.40" fill="#fff" stroke="#000" stroke-width="1.30"/>
<circle cx="994.8" cy="88.0" r="6.40" fill="#fff" stroke="#000" stroke-width="1.30"/>
<circle cx="995.2" cy="83.0" r="6.40" fill="#fff" stroke="#000" stroke-width="1.30"/>
<circle cx="995.6" cy="78.0" r="6.40" fill="#fff" stroke="#000" stroke-width="1.30"/>
<circle cx="996.2" cy="73.1" r="6.40" fill="#fff" stroke="#000" stroke-width="1.30"/>
<circle cx="996.9" cy="68.1" r="6.40" fill="#fff" stroke="#000" stroke-width="1.30"/>
<circle cx="997.7" cy="63.2" r="6.40" fill="#fff" stroke="#000" stroke-width="1.30"/>
<circle cx="998.9" cy="58.4" r="6.40" fill="#fff" stroke="#000" stroke-width="1.30"/>
<circle cx="1001.3" cy="54.0" r="6.40" fill="#fff" stroke="#000" stroke-width="1.30"/>
<circle cx="1005.5" cy="52.6" r="6.40" fill="#fff" stroke="#000" stroke-width="1.30"/>
<circle cx="1006.5" cy="53.0" r="6.40" fill="#fff" stroke="#000" stroke-width="1.30"/>
<circle cx="1007.7" cy="61.9" r="6.40" fill="#fff" stroke="#000" stroke-width="1.30"/>
<circle cx="1008.3" cy="70.9" r="6.40" fill="#fff" stroke="#000" stroke-width="1.30"/>
<circle cx="1008.7" cy="79.9" r="6.40" fill="#fff" stroke="#000" stroke-width="1.30"/>
<circle cx="1009.2" cy="88.9" r="6.40" fill="#fff" stroke="#000" stroke-width="1.30"/>
<circle cx="1010.2" cy="97.8" r="6.40" fill="#fff" stroke="#000" stroke-width="1.30"/>
<circle cx="1011.5" cy="106.7" r="6.40" fill="#fff" stroke="#000" stroke-width="1.30"/>
<circle cx="1012.2" cy="115.7" r="6.40" fill="#fff" stroke="#000" stroke-width="1.30"/>
<circle cx="1012.8" cy="124.7" r="6.40" fill="#fff" stroke="#000" stroke-width="1.30"/>
<circle cx="1013.5" cy="133.6" r="6.40" fill="#fff" stroke="#000" stroke-width="1.30"/>
<circle cx="1014.5" cy="142.6" r="6.40" fill="#fff" stroke="#000" stroke-width="1.30"/>
<circle cx="1016.0" cy="151.4" r="6.40" fill="#fff" stroke="#000" stroke-width="1.30"/>
<circle cx="1018.1" cy="160.2" r="6.40" fill="#fff" stroke="#000" stroke-width="1.30"/>
<circle cx="1020.5" cy="168.9" r="6.40" fill="#fff" stroke="#000" stroke-width="1.30"/>
<circle cx="1023.7" cy="177.3" r="6.40" fill="#fff" stroke="#000" stroke-width="1.30"/>
<circle cx="1028.4" cy="184.9" r="6.40" fill="#fff" stroke="#000" stroke-width="1.30"/>
<circle cx="1035.4" cy="190.5" r="6.40" fill="#fff" stroke="#000" stroke-width="1.30"/>
<circle cx="1043.4" cy="194.6" r="6.40" fill="#fff" stroke="#000" stroke-width="1.30"/>
<circle cx="1047.0" cy="197.5" r="6.40" fill="#fff" stroke="#000" stroke-width="1.30"/>
<circle cx="1054.2" cy="201.0" r="6.40" fill="#fff" stroke="#000" stroke-width="1.30"/>
<circle cx="1061.8" cy="203.4" r="6.40" fill="#fff" stroke="#000" stroke-width="1.30"/>
<circle cx="1069.7" cy="204.8" r="6.40" fill="#fff" stroke="#000" stroke-width="1.30"/>
<circle cx="1077.6" cy="205.8" r="6.40" fill="#fff" stroke="#000" stroke-width="1.30"/>
<circle cx="1085.6" cy="206.5" r="6.40" fill="#fff" stroke="#000" stroke-width="1.30"/>
<circle cx="1093.6" cy="206.8" r="6.40" fill="#fff" stroke="#000" stroke-width="1.30"/>
<circle cx="1101.6" cy="207.0" r="6.40" fill="#fff" stroke="#000" stroke-width="1.30"/>
<circle cx="1109.6" cy="207.3" r="6.40" fill="#fff" stroke="#000" stroke-width="1.30"/>
<circle cx="1117.6" cy="207.4" r="6.40" fill="#fff" stroke="#000" stroke-width="1.30"/>
<circle cx="1125.6" cy="207.6" r="6.40" fill="#fff" stroke="#000" stroke-width="1.30"/>
<circle cx="1133.6" cy="207.8" r="6.40" fill="#fff" stroke="#000" stroke-width="1.30"/>
<circle cx="1141.6" cy="207.9" r="6.40" fill="#fff" stroke="#000" stroke-width="1.30"/>
<circle cx="1149.6" cy="208.0" r="6.40" fill="#fff" stroke="#000" stroke-width="1.30"/>
<circle cx="1157.6" cy="208.1" r="6.40" fill="#fff" stroke="#000" stroke-width="1.30"/>
<circle cx="1165.6" cy="208.2" r="6.40" fill="#fff" stroke="#000" stroke-width="1.30"/>
<circle cx="1173.6" cy="208.3" r="6.40" fill="#fff" stroke="#000" stroke-width="1.30"/>
<circle cx="1181.6" cy="208.4" r="6.40" fill="#fff" stroke="#000" stroke-width="1.30"/>
<circle cx="1189.6" cy="208.5" r="6.40" fill="#fff" stroke="#000" stroke-width="1.30"/>
<circle cx="1197.6" cy="208.5" r="6.40" fill="#fff" stroke="#000" stroke-width="1.30"/>
<circle cx="1205.6" cy="208.6" r="6.40" fill="#fff" stroke="#000" stroke-width="1.30"/>
<circle cx="1213.6" cy="208.7" r="6.40" fill="#fff" stroke="#000" stroke-width="1.30"/>
<circle cx="1221.6" cy="208.8" r="6.40" fill="#fff" stroke="#000" stroke-width="1.30"/>
<circle cx="1229.6" cy="208.8" r="6.40" fill="#fff" stroke="#000" stroke-width="1.30"/>
<circle cx="1237.6" cy="208.9" r="6.40" fill="#fff" stroke="#000" stroke-width="1.30"/>
<circle cx="1245.6" cy="209.0" r="6.40" fill="#fff" stroke="#000" stroke-width="1.30"/>
<circle cx="1253.6" cy="209.0" r="6.40" fill="#fff" stroke="#000" stroke-width="1.30"/>
<circle cx="1261.6" cy="209.1" r="6.40" fill="#fff" stroke="#000" stroke-width="1.30"/>
<circle cx="1269.6" cy="209.1" r="6.40" fill="#fff" stroke="#000" stroke-width="1.30"/>
<circle cx="1277.6" cy="209.2" r="6.40" fill="#fff" stroke="#000" stroke-width="1.30"/>
<circle cx="1285.6" cy="209.2" r="6.40" fill="#fff" stroke="#000" stroke-width="1.30"/>
<circle cx="1293.6" cy="209.3" r="6.40" fill="#fff" stroke="#000" stroke-width="1.30"/>
<circle cx="1301.6" cy="209.3" r="6.40" fill="#fff" stroke="#000" stroke-width="1.30"/>
<circle cx="1309.6" cy="209.3" r="6.40" fill="#fff" stroke="#000" stroke-width="1.30"/>
<circle cx="1317.6" cy="209.4" r="6.40" fill="#fff" stroke="#000" stroke-width="1.30"/>
<circle cx="1325.6" cy="209.4" r="6.40" fill="#fff" stroke="#000" stroke-width="1.30"/>
<circle cx="1333.6" cy="209.4" r="6.40" fill="#fff" stroke="#000" stroke-width="1.30"/>
<circle cx="1341.6" cy="209.5" r="6.40" fill="#fff" stroke="#000" stroke-width="1.30"/>
<circle cx="1349.6" cy="209.5" r="6.40" fill="#fff" stroke="#000" stroke-width="1.30"/>
<circle cx="1357.6" cy="209.5" r="6.40" fill="#fff" stroke="#000" stroke-width="1.30"/>
<circle cx="1365.6" cy="209.5" r="6.40" fill="#fff" stroke="#000" stroke-width="1.30"/>
<circle cx="1373.6" cy="209.6" r="6.40" fill="#fff" stroke="#000" stroke-width="1.30"/>
<circle cx="1381.6" cy="209.6" r="6.40" fill="#fff" stroke="#000" stroke-width="1.30"/>
<circle cx="1389.6" cy="209.6" r="6.40" fill="#fff" stroke="#000" stroke-width="1.30"/>
<circle cx="1397.6" cy="209.6" r="6.40" fill="#fff" stroke="#000" stroke-width="1.30"/>
<circle cx="1405.6" cy="209.6" r="6.40" fill="#fff" stroke="#000" stroke-width="1.30"/>
<circle cx="1413.6" cy="209.7" r="6.40" fill="#fff" stroke="#000" stroke-width="1.30"/>
<circle cx="1421.6" cy="209.7" r="6.40" fill="#fff" stroke="#000" stroke-width="1.30"/>
<circle cx="1429.6" cy="209.7" r="6.40" fill="#fff" stroke="#000" stroke-width="1.30"/>
<circle cx="1437.6" cy="209.7" r="6.40" fill="#fff" stroke="#000" stroke-width="1.30"/>
<line x1="981.30" y1="211.00" x2="1029.60" y2="209.00" stroke="#f60000" stroke-width="2.00" stroke-linecap="butt"/>
<polyline points="998.7,225.5 994.8,236.0 991.0,261.2 985.1,257.4 988.0,283.5 983.5,236.0 983.0,231.0 983.0,227.0 983.0,223.0 983.0,219.5 983.0,216.0 983.0,212.5" fill="none" stroke="#f60000" stroke-width="1.40" stroke-linejoin="round" stroke-linecap="round"/>
<polygon points="1441.0,205.2 1448.5,217.7 1433.5,217.7" fill="#fff" stroke="#f60000" stroke-width="1.30" stroke-linejoin="miter"/>
<polygon points="1427.0,205.2 1434.5,217.7 1419.5,217.7" fill="#fff" stroke="#f60000" stroke-width="1.30" stroke-linejoin="miter"/>
<polygon points="1413.0,205.2 1420.5,217.7 1405.5,217.7" fill="#fff" stroke="#f60000" stroke-width="1.30" stroke-linejoin="miter"/>
<polygon points="1399.0,205.2 1406.5,217.7 1391.5,217.7" fill="#fff" stroke="#f60000" stroke-width="1.30" stroke-linejoin="miter"/>
<polygon points="1385.0,205.2 1392.5,217.7 1377.5,217.7" fill="#fff" stroke="#f60000" stroke-width="1.30" stroke-linejoin="miter"/>
<polygon points="1371.0,205.2 1378.5,217.7 1363.5,217.7" fill="#fff" stroke="#f60000" stroke-width="1.30" stroke-linejoin="miter"/>
<polygon points="1357.0,205.2 1364.5,217.7 1349.5,217.7" fill="#fff" stroke="#f60000" stroke-width="1.30" stroke-linejoin="miter"/>
<polygon points="1343.0,205.2 1350.5,217.7 1335.5,217.7" fill="#fff" stroke="#f60000" stroke-width="1.30" stroke-linejoin="miter"/>
<polygon points="1329.0,205.2 1336.5,217.7 1321.5,217.7" fill="#fff" stroke="#f60000" stroke-width="1.30" stroke-linejoin="miter"/>
<polygon points="1315.0,205.2 1322.5,217.7 1307.5,217.7" fill="#fff" stroke="#f60000" stroke-width="1.30" stroke-linejoin="miter"/>
<polygon points="1301.0,205.2 1308.5,217.7 1293.5,217.7" fill="#fff" stroke="#f60000" stroke-width="1.30" stroke-linejoin="miter"/>
<polygon points="1287.0,205.2 1294.5,217.7 1279.5,217.7" fill="#fff" stroke="#f60000" stroke-width="1.30" stroke-linejoin="miter"/>
<polygon points="1273.0,205.2 1280.5,217.7 1265.5,217.7" fill="#fff" stroke="#f60000" stroke-width="1.30" stroke-linejoin="miter"/>
<polygon points="1259.0,205.2 1266.5,217.7 1251.5,217.7" fill="#fff" stroke="#f60000" stroke-width="1.30" stroke-linejoin="miter"/>
<polygon points="1245.0,205.2 1252.5,217.7 1237.5,217.7" fill="#fff" stroke="#f60000" stroke-width="1.30" stroke-linejoin="miter"/>
<polygon points="1231.0,205.2 1238.5,217.7 1223.5,217.7" fill="#fff" stroke="#f60000" stroke-width="1.30" stroke-linejoin="miter"/>
<polygon points="1217.0,205.2 1224.5,217.7 1209.5,217.7" fill="#fff" stroke="#f60000" stroke-width="1.30" stroke-linejoin="miter"/>
<polygon points="1203.0,205.2 1210.5,217.7 1195.5,217.7" fill="#fff" stroke="#f60000" stroke-width="1.30" stroke-linejoin="miter"/>
<polygon points="1189.0,205.2 1196.5,217.7 1181.5,217.7" fill="#fff" stroke="#f60000" stroke-width="1.30" stroke-linejoin="miter"/>
<polygon points="1175.0,205.2 1182.5,217.7 1167.5,217.7" fill="#fff" stroke="#f60000" stroke-width="1.30" stroke-linejoin="miter"/>
<polygon points="1161.0,205.1 1168.5,217.6 1153.5,217.6" fill="#fff" stroke="#f60000" stroke-width="1.30" stroke-linejoin="miter"/>
<polygon points="1147.0,205.1 1154.5,217.6 1139.5,217.6" fill="#fff" stroke="#f60000" stroke-width="1.30" stroke-linejoin="miter"/>
<polygon points="1133.0,205.2 1140.5,217.7 1125.5,217.7" fill="#fff" stroke="#f60000" stroke-width="1.30" stroke-linejoin="miter"/>
<polygon points="1119.0,205.2 1126.5,217.7 1111.5,217.7" fill="#fff" stroke="#f60000" stroke-width="1.30" stroke-linejoin="miter"/>
<polygon points="1105.0,205.4 1112.5,217.9 1097.5,217.9" fill="#fff" stroke="#f60000" stroke-width="1.30" stroke-linejoin="miter"/>
<polygon points="1091.0,205.9 1098.5,218.4 1083.5,218.4" fill="#fff" stroke="#f60000" stroke-width="1.30" stroke-linejoin="miter"/>
<polygon points="1077.0,206.8 1084.5,219.3 1069.5,219.3" fill="#fff" stroke="#f60000" stroke-width="1.30" stroke-linejoin="miter"/>
<polygon points="1063.1,207.9 1070.6,220.4 1055.6,220.4" fill="#fff" stroke="#f60000" stroke-width="1.30" stroke-linejoin="miter"/>
<polygon points="1060.0,208.2 1067.5,220.7 1052.5,220.7" fill="#fff" stroke="#f60000" stroke-width="1.30" stroke-linejoin="miter"/>
<polygon points="1056.0,208.8 1063.5,221.3 1048.5,221.3" fill="#fff" stroke="#f60000" stroke-width="1.30" stroke-linejoin="miter"/>
<polygon points="1052.1,209.3 1059.6,221.8 1044.6,221.8" fill="#fff" stroke="#f60000" stroke-width="1.30" stroke-linejoin="miter"/>
<polygon points="1048.1,209.7 1055.6,222.2 1040.6,222.2" fill="#fff" stroke="#f60000" stroke-width="1.30" stroke-linejoin="miter"/>
<polygon points="1044.1,210.2 1051.6,222.7 1036.6,222.7" fill="#fff" stroke="#f60000" stroke-width="1.30" stroke-linejoin="miter"/>
<polygon points="1040.2,210.6 1047.7,223.1 1032.7,223.1" fill="#fff" stroke="#f60000" stroke-width="1.30" stroke-linejoin="miter"/>
<polygon points="1036.2,211.0 1043.7,223.5 1028.7,223.5" fill="#fff" stroke="#f60000" stroke-width="1.30" stroke-linejoin="miter"/>
<polygon points="1032.2,211.5 1039.7,224.0 1024.7,224.0" fill="#fff" stroke="#f60000" stroke-width="1.30" stroke-linejoin="miter"/>
<polygon points="1028.2,211.9 1035.7,224.4 1020.7,224.4" fill="#fff" stroke="#f60000" stroke-width="1.30" stroke-linejoin="miter"/>
<polygon points="1024.3,212.4 1031.8,224.9 1016.8,224.9" fill="#fff" stroke="#f60000" stroke-width="1.30" stroke-linejoin="miter"/>
<polygon points="1020.3,212.9 1027.8,225.4 1012.8,225.4" fill="#fff" stroke="#f60000" stroke-width="1.30" stroke-linejoin="miter"/>
<polygon points="1016.3,213.3 1023.8,225.8 1008.8,225.8" fill="#fff" stroke="#f60000" stroke-width="1.30" stroke-linejoin="miter"/>
<polygon points="1012.3,213.8 1019.8,226.3 1004.8,226.3" fill="#fff" stroke="#f60000" stroke-width="1.30" stroke-linejoin="miter"/>
<polygon points="1008.4,214.4 1015.9,226.9 1000.9,226.9" fill="#fff" stroke="#f60000" stroke-width="1.30" stroke-linejoin="miter"/>
<polygon points="1004.5,215.2 1012.0,227.7 997.0,227.7" fill="#fff" stroke="#f60000" stroke-width="1.30" stroke-linejoin="miter"/>
<polygon points="1000.6,216.4 1008.1,228.9 993.1,228.9" fill="#fff" stroke="#f60000" stroke-width="1.30" stroke-linejoin="miter"/>
<polygon points="994.8,227.7 1002.3,240.2 987.3,240.2" fill="#fff" stroke="#f60000" stroke-width="1.30" stroke-linejoin="miter"/>
<polygon points="991.0,252.9 998.5,265.4 983.5,265.4" fill="#fff" stroke="#f60000" stroke-width="1.30" stroke-linejoin="miter"/>
<polygon points="985.1,249.1 992.6,261.6 977.6,261.6" fill="#fff" stroke="#f60000" stroke-width="1.30" stroke-linejoin="miter"/>
<polygon points="988.0,275.2 995.5,287.7 980.5,287.7" fill="#fff" stroke="#f60000" stroke-width="1.30" stroke-linejoin="miter"/>
<polygon points="983.5,227.7 991.0,240.2 976.0,240.2" fill="#fff" stroke="#f60000" stroke-width="1.30" stroke-linejoin="miter"/>
<polygon points="983.0,222.7 990.5,235.2 975.5,235.2" fill="#fff" stroke="#f60000" stroke-width="1.30" stroke-linejoin="miter"/>
<polygon points="983.0,218.7 990.5,231.2 975.5,231.2" fill="#fff" stroke="#f60000" stroke-width="1.30" stroke-linejoin="miter"/>
<polygon points="983.0,214.7 990.5,227.2 975.5,227.2" fill="#fff" stroke="#f60000" stroke-width="1.30" stroke-linejoin="miter"/>
<polygon points="983.0,211.2 990.5,223.7 975.5,223.7" fill="#fff" stroke="#f60000" stroke-width="1.30" stroke-linejoin="miter"/>
<polygon points="983.0,207.7 990.5,220.2 975.5,220.2" fill="#fff" stroke="#f60000" stroke-width="1.30" stroke-linejoin="miter"/>
<polygon points="983.0,204.2 990.5,216.7 975.5,216.7" fill="#fff" stroke="#f60000" stroke-width="1.30" stroke-linejoin="miter"/>
<polygon points="1030.0,203.7 1037.5,216.2 1022.5,216.2" fill="#fff" stroke="#f60000" stroke-width="1.30" stroke-linejoin="miter"/>
<polygon points="1031.9,202.1 1039.4,214.6 1024.4,214.6" fill="#fff" stroke="#f60000" stroke-width="1.30" stroke-linejoin="miter"/>
<polygon points="1033.8,200.5 1041.3,213.0 1026.3,213.0" fill="#fff" stroke="#f60000" stroke-width="1.30" stroke-linejoin="miter"/>
<polygon points="1035.8,198.9 1043.3,211.4 1028.3,211.4" fill="#fff" stroke="#f60000" stroke-width="1.30" stroke-linejoin="miter"/>
<polygon points="1037.7,197.3 1045.2,209.8 1030.2,209.8" fill="#fff" stroke="#f60000" stroke-width="1.30" stroke-linejoin="miter"/>
<polygon points="1039.6,195.7 1047.1,208.2 1032.1,208.2" fill="#fff" stroke="#f60000" stroke-width="1.30" stroke-linejoin="miter"/>
<polygon points="1041.5,194.0 1049.0,206.5 1034.0,206.5" fill="#fff" stroke="#f60000" stroke-width="1.30" stroke-linejoin="miter"/>
<polygon points="1043.3,192.2 1050.8,204.7 1035.8,204.7" fill="#fff" stroke="#f60000" stroke-width="1.30" stroke-linejoin="miter"/>
<polygon points="1045.0,190.5 1052.5,203.0 1037.5,203.0" fill="#fff" stroke="#f60000" stroke-width="1.30" stroke-linejoin="miter"/>
<polygon points="1046.8,188.7 1054.3,201.2 1039.3,201.2" fill="#fff" stroke="#f60000" stroke-width="1.30" stroke-linejoin="miter"/>
<polygon points="1048.5,186.9 1056.0,199.4 1041.0,199.4" fill="#fff" stroke="#f60000" stroke-width="1.30" stroke-linejoin="miter"/>
<polygon points="1048.7,186.7 1056.2,199.2 1041.2,199.2" fill="#fff" stroke="#f60000" stroke-width="1.30" stroke-linejoin="miter"/>
<polygon points="1054.4,181.1 1061.9,193.6 1046.9,193.6" fill="#fff" stroke="#f60000" stroke-width="1.30" stroke-linejoin="miter"/>
<polygon points="1058.7,174.3 1066.2,186.8 1051.2,186.8" fill="#fff" stroke="#f60000" stroke-width="1.30" stroke-linejoin="miter"/>
<polygon points="1061.5,166.9 1069.0,179.4 1054.0,179.4" fill="#fff" stroke="#f60000" stroke-width="1.30" stroke-linejoin="miter"/>
<polygon points="1063.4,159.1 1070.9,171.6 1055.9,171.6" fill="#fff" stroke="#f60000" stroke-width="1.30" stroke-linejoin="miter"/>
<polygon points="1065.3,151.3 1072.8,163.8 1057.8,163.8" fill="#fff" stroke="#f60000" stroke-width="1.30" stroke-linejoin="miter"/>
<polygon points="1067.8,143.8 1075.3,156.3 1060.3,156.3" fill="#fff" stroke="#f60000" stroke-width="1.30" stroke-linejoin="miter"/>
<polygon points="1070.0,141.2 1077.5,153.7 1062.5,153.7" fill="#fff" stroke="#f60000" stroke-width="1.30" stroke-linejoin="miter"/>
<polygon points="1072.0,141.3 1079.5,153.8 1064.5,153.8" fill="#fff" stroke="#f60000" stroke-width="1.30" stroke-linejoin="miter"/>
<polygon points="1072.7,141.4 1080.2,153.9 1065.2,153.9" fill="#fff" stroke="#f60000" stroke-width="1.30" stroke-linejoin="miter"/>
<polygon points="1075.6,143.1 1083.1,155.6 1068.1,155.6" fill="#fff" stroke="#f60000" stroke-width="1.30" stroke-linejoin="miter"/>
<polygon points="1078.1,145.5 1085.6,158.0 1070.6,158.0" fill="#fff" stroke="#f60000" stroke-width="1.30" stroke-linejoin="miter"/>
<polygon points="1080.1,148.2 1087.6,160.7 1072.6,160.7" fill="#fff" stroke="#f60000" stroke-width="1.30" stroke-linejoin="miter"/>
<polygon points="1081.9,151.0 1089.4,163.5 1074.4,163.5" fill="#fff" stroke="#f60000" stroke-width="1.30" stroke-linejoin="miter"/>
<polygon points="1083.8,153.9 1091.3,166.4 1076.3,166.4" fill="#fff" stroke="#f60000" stroke-width="1.30" stroke-linejoin="miter"/>
<polygon points="1085.6,156.8 1093.1,169.3 1078.1,169.3" fill="#fff" stroke="#f60000" stroke-width="1.30" stroke-linejoin="miter"/>
<polygon points="1087.5,159.6 1095.0,172.1 1080.0,172.1" fill="#fff" stroke="#f60000" stroke-width="1.30" stroke-linejoin="miter"/>
<polygon points="1089.3,162.5 1096.8,175.0 1081.8,175.0" fill="#fff" stroke="#f60000" stroke-width="1.30" stroke-linejoin="miter"/>
<polygon points="1091.2,165.3 1098.7,177.8 1083.7,177.8" fill="#fff" stroke="#f60000" stroke-width="1.30" stroke-linejoin="miter"/>
<polygon points="1093.1,168.1 1100.6,180.6 1085.6,180.6" fill="#fff" stroke="#f60000" stroke-width="1.30" stroke-linejoin="miter"/>
<polygon points="1095.1,170.9 1102.6,183.4 1087.6,183.4" fill="#fff" stroke="#f60000" stroke-width="1.30" stroke-linejoin="miter"/>
<polygon points="1097.0,173.7 1104.5,186.2 1089.5,186.2" fill="#fff" stroke="#f60000" stroke-width="1.30" stroke-linejoin="miter"/>
<polygon points="1099.0,176.5 1106.5,189.0 1091.5,189.0" fill="#fff" stroke="#f60000" stroke-width="1.30" stroke-linejoin="miter"/>
<polygon points="1101.1,179.1 1108.6,191.6 1093.6,191.6" fill="#fff" stroke="#f60000" stroke-width="1.30" stroke-linejoin="miter"/>
<polygon points="1103.6,181.5 1111.1,194.0 1096.1,194.0" fill="#fff" stroke="#f60000" stroke-width="1.30" stroke-linejoin="miter"/>
<polygon points="1106.2,183.6 1113.7,196.1 1098.7,196.1" fill="#fff" stroke="#f60000" stroke-width="1.30" stroke-linejoin="miter"/>
<polygon points="1108.9,185.6 1116.4,198.1 1101.4,198.1" fill="#fff" stroke="#f60000" stroke-width="1.30" stroke-linejoin="miter"/>
<polygon points="1111.8,187.4 1119.3,199.9 1104.3,199.9" fill="#fff" stroke="#f60000" stroke-width="1.30" stroke-linejoin="miter"/>
<polygon points="1114.8,189.1 1122.3,201.6 1107.3,201.6" fill="#fff" stroke="#f60000" stroke-width="1.30" stroke-linejoin="miter"/>
<polygon points="1117.9,190.5 1125.4,203.0 1110.4,203.0" fill="#fff" stroke="#f60000" stroke-width="1.30" stroke-linejoin="miter"/>
<polygon points="1121.0,191.7 1128.5,204.2 1113.5,204.2" fill="#fff" stroke="#f60000" stroke-width="1.30" stroke-linejoin="miter"/>
<polygon points="1124.3,192.8 1131.8,205.3 1116.8,205.3" fill="#fff" stroke="#f60000" stroke-width="1.30" stroke-linejoin="miter"/>
<polygon points="1127.5,193.8 1135.0,206.3 1120.0,206.3" fill="#fff" stroke="#f60000" stroke-width="1.30" stroke-linejoin="miter"/>
<polygon points="1130.8,194.7 1138.3,207.2 1123.3,207.2" fill="#fff" stroke="#f60000" stroke-width="1.30" stroke-linejoin="miter"/>
<polygon points="1134.1,195.4 1141.6,207.9 1126.6,207.9" fill="#fff" stroke="#f60000" stroke-width="1.30" stroke-linejoin="miter"/>
<polygon points="1137.4,196.1 1144.9,208.6 1129.9,208.6" fill="#fff" stroke="#f60000" stroke-width="1.30" stroke-linejoin="miter"/>
<polygon points="1140.8,196.7 1148.3,209.2 1133.3,209.2" fill="#fff" stroke="#f60000" stroke-width="1.30" stroke-linejoin="miter"/>
<polygon points="1144.1,197.3 1151.6,209.8 1136.6,209.8" fill="#fff" stroke="#f60000" stroke-width="1.30" stroke-linejoin="miter"/>
<polygon points="1147.5,197.8 1155.0,210.3 1140.0,210.3" fill="#fff" stroke="#f60000" stroke-width="1.30" stroke-linejoin="miter"/>
<polygon points="1150.9,198.2 1158.4,210.7 1143.4,210.7" fill="#fff" stroke="#f60000" stroke-width="1.30" stroke-linejoin="miter"/>
<polygon points="1154.3,198.5 1161.8,211.0 1146.8,211.0" fill="#fff" stroke="#f60000" stroke-width="1.30" stroke-linejoin="miter"/>
<polygon points="1157.7,198.8 1165.2,211.3 1150.2,211.3" fill="#fff" stroke="#f60000" stroke-width="1.30" stroke-linejoin="miter"/>
<polygon points="1161.0,199.2 1168.5,211.7 1153.5,211.7" fill="#fff" stroke="#f60000" stroke-width="1.30" stroke-linejoin="miter"/>
<polygon points="1164.4,199.5 1171.9,212.0 1156.9,212.0" fill="#fff" stroke="#f60000" stroke-width="1.30" stroke-linejoin="miter"/>
<polygon points="1167.8,199.7 1175.3,212.2 1160.3,212.2" fill="#fff" stroke="#f60000" stroke-width="1.30" stroke-linejoin="miter"/>
<polygon points="1171.2,199.9 1178.7,212.4 1163.7,212.4" fill="#fff" stroke="#f60000" stroke-width="1.30" stroke-linejoin="miter"/>
<polygon points="1174.6,200.1 1182.1,212.6 1167.1,212.6" fill="#fff" stroke="#f60000" stroke-width="1.30" stroke-linejoin="miter"/>
<polygon points="1176.0,200.2 1183.5,212.7 1168.5,212.7" fill="#fff" stroke="#f60000" stroke-width="1.30" stroke-linejoin="miter"/>
<polygon points="1189.0,201.1 1196.5,213.6 1181.5,213.6" fill="#fff" stroke="#f60000" stroke-width="1.30" stroke-linejoin="miter"/>
<polygon points="1202.0,201.6 1209.5,214.1 1194.5,214.1" fill="#fff" stroke="#f60000" stroke-width="1.30" stroke-linejoin="miter"/>
<polygon points="1214.9,202.0 1222.4,214.5 1207.4,214.5" fill="#fff" stroke="#f60000" stroke-width="1.30" stroke-linejoin="miter"/>
<polygon points="1227.9,202.3 1235.4,214.8 1220.4,214.8" fill="#fff" stroke="#f60000" stroke-width="1.30" stroke-linejoin="miter"/>
<polygon points="1240.9,202.5 1248.4,215.0 1233.4,215.0" fill="#fff" stroke="#f60000" stroke-width="1.30" stroke-linejoin="miter"/>
<polygon points="1253.9,202.6 1261.4,215.1 1246.4,215.1" fill="#fff" stroke="#f60000" stroke-width="1.30" stroke-linejoin="miter"/>
<polygon points="1266.9,202.7 1274.4,215.2 1259.4,215.2" fill="#fff" stroke="#f60000" stroke-width="1.30" stroke-linejoin="miter"/>
<polygon points="1279.9,202.8 1287.4,215.3 1272.4,215.3" fill="#fff" stroke="#f60000" stroke-width="1.30" stroke-linejoin="miter"/>
<polygon points="1292.9,202.8 1300.4,215.3 1285.4,215.3" fill="#fff" stroke="#f60000" stroke-width="1.30" stroke-linejoin="miter"/>
<polygon points="1305.9,202.9 1313.4,215.4 1298.4,215.4" fill="#fff" stroke="#f60000" stroke-width="1.30" stroke-linejoin="miter"/>
<polygon points="1318.9,202.9 1326.4,215.4 1311.4,215.4" fill="#fff" stroke="#f60000" stroke-width="1.30" stroke-linejoin="miter"/>
<polygon points="1331.9,203.0 1339.4,215.5 1324.4,215.5" fill="#fff" stroke="#f60000" stroke-width="1.30" stroke-linejoin="miter"/>
<polygon points="1344.9,203.1 1352.4,215.6 1337.4,215.6" fill="#fff" stroke="#f60000" stroke-width="1.30" stroke-linejoin="miter"/>
<polygon points="1357.9,203.1 1365.4,215.6 1350.4,215.6" fill="#fff" stroke="#f60000" stroke-width="1.30" stroke-linejoin="miter"/>
<polygon points="1370.9,203.1 1378.4,215.6 1363.4,215.6" fill="#fff" stroke="#f60000" stroke-width="1.30" stroke-linejoin="miter"/>
<polygon points="1383.9,203.2 1391.4,215.7 1376.4,215.7" fill="#fff" stroke="#f60000" stroke-width="1.30" stroke-linejoin="miter"/>
<polygon points="1396.9,203.2 1404.4,215.7 1389.4,215.7" fill="#fff" stroke="#f60000" stroke-width="1.30" stroke-linejoin="miter"/>
<polygon points="1409.9,203.2 1417.4,215.7 1402.4,215.7" fill="#fff" stroke="#f60000" stroke-width="1.30" stroke-linejoin="miter"/>
<polygon points="1422.9,203.2 1430.4,215.7 1415.4,215.7" fill="#fff" stroke="#f60000" stroke-width="1.30" stroke-linejoin="miter"/>
<polygon points="1435.9,203.2 1443.4,215.7 1428.4,215.7" fill="#fff" stroke="#f60000" stroke-width="1.30" stroke-linejoin="miter"/>
<line x1="1436.00" y1="211.70" x2="1451.00" y2="211.70" stroke="#f60000" stroke-width="2.00" stroke-linecap="butt"/>
</g>
<rect x="101.50" y="535.60" width="629.10" height="425.60" fill="none" stroke="#000" stroke-width="1.80" stroke-linejoin="round"/>
<line x1="191.30" y1="961.20" x2="191.30" y2="953.40" stroke="#000" stroke-width="1.80" stroke-linecap="butt"/>
<line x1="281.20" y1="961.20" x2="281.20" y2="953.40" stroke="#000" stroke-width="1.80" stroke-linecap="butt"/>
<line x1="371.10" y1="961.20" x2="371.10" y2="953.40" stroke="#000" stroke-width="1.80" stroke-linecap="butt"/>
<line x1="461.00" y1="961.20" x2="461.00" y2="953.40" stroke="#000" stroke-width="1.80" stroke-linecap="butt"/>
<line x1="550.90" y1="961.20" x2="550.90" y2="953.40" stroke="#000" stroke-width="1.80" stroke-linecap="butt"/>
<line x1="640.80" y1="961.20" x2="640.80" y2="953.40" stroke="#000" stroke-width="1.80" stroke-linecap="butt"/>
<line x1="146.35" y1="961.20" x2="146.35" y2="957.20" stroke="#000" stroke-width="1.80" stroke-linecap="butt"/>
<line x1="236.25" y1="961.20" x2="236.25" y2="957.20" stroke="#000" stroke-width="1.80" stroke-linecap="butt"/>
<line x1="326.15" y1="961.20" x2="326.15" y2="957.20" stroke="#000" stroke-width="1.80" stroke-linecap="butt"/>
<line x1="416.05" y1="961.20" x2="416.05" y2="957.20" stroke="#000" stroke-width="1.80" stroke-linecap="butt"/>
<line x1="505.95" y1="961.20" x2="505.95" y2="957.20" stroke="#000" stroke-width="1.80" stroke-linecap="butt"/>
<line x1="595.85" y1="961.20" x2="595.85" y2="957.20" stroke="#000" stroke-width="1.80" stroke-linecap="butt"/>
<line x1="685.75" y1="961.20" x2="685.75" y2="957.20" stroke="#000" stroke-width="1.80" stroke-linecap="butt"/>
<line x1="101.50" y1="900.40" x2="110.30" y2="900.40" stroke="#000" stroke-width="1.80" stroke-linecap="butt"/>
<line x1="101.50" y1="839.60" x2="110.30" y2="839.60" stroke="#000" stroke-width="1.80" stroke-linecap="butt"/>
<line x1="101.50" y1="778.80" x2="110.30" y2="778.80" stroke="#000" stroke-width="1.80" stroke-linecap="butt"/>
<line x1="101.50" y1="718.00" x2="110.30" y2="718.00" stroke="#000" stroke-width="1.80" stroke-linecap="butt"/>
<line x1="101.50" y1="657.20" x2="110.30" y2="657.20" stroke="#000" stroke-width="1.80" stroke-linecap="butt"/>
<line x1="101.50" y1="596.40" x2="110.30" y2="596.40" stroke="#000" stroke-width="1.80" stroke-linecap="butt"/>
<line x1="101.50" y1="930.80" x2="105.90" y2="930.80" stroke="#000" stroke-width="1.80" stroke-linecap="butt"/>
<line x1="101.50" y1="870.00" x2="105.90" y2="870.00" stroke="#000" stroke-width="1.80" stroke-linecap="butt"/>
<line x1="101.50" y1="809.20" x2="105.90" y2="809.20" stroke="#000" stroke-width="1.80" stroke-linecap="butt"/>
<line x1="101.50" y1="748.40" x2="105.90" y2="748.40" stroke="#000" stroke-width="1.80" stroke-linecap="butt"/>
<line x1="101.50" y1="687.60" x2="105.90" y2="687.60" stroke="#000" stroke-width="1.80" stroke-linecap="butt"/>
<line x1="101.50" y1="626.80" x2="105.90" y2="626.80" stroke="#000" stroke-width="1.80" stroke-linecap="butt"/>
<line x1="101.50" y1="566.00" x2="105.90" y2="566.00" stroke="#000" stroke-width="1.80" stroke-linecap="butt"/>
<text transform="translate(79.09,967.30) scale(1.0600,1)" font-size="23.60" font-weight="bold" fill="#000">0</text>
<text transform="translate(54.08,906.50) scale(1.0600,1)" font-size="23.60" font-weight="bold" fill="#000">100</text>
<text transform="translate(54.08,845.70) scale(1.0600,1)" font-size="23.60" font-weight="bold" fill="#000">200</text>
<text transform="translate(54.08,784.90) scale(1.0600,1)" font-size="23.60" font-weight="bold" fill="#000">300</text>
<text transform="translate(54.08,724.10) scale(1.0600,1)" font-size="23.60" font-weight="bold" fill="#000">400</text>
<text transform="translate(54.08,663.30) scale(1.0600,1)" font-size="23.60" font-weight="bold" fill="#000">500</text>
<text transform="translate(54.08,602.50) scale(1.0600,1)" font-size="23.60" font-weight="bold" fill="#000">600</text>
<text transform="translate(54.08,541.70) scale(1.0600,1)" font-size="23.60" font-weight="bold" fill="#000">700</text>
<text transform="translate(95.17,987.90) scale(1.0560,1)" font-size="23.60" font-weight="bold" fill="#000">0</text>
<text transform="translate(172.11,987.90) scale(1.0560,1)" font-size="23.60" font-weight="bold" fill="#000">100</text>
<text transform="translate(262.51,987.90) scale(1.0560,1)" font-size="23.60" font-weight="bold" fill="#000">200</text>
<text transform="translate(352.41,987.90) scale(1.0560,1)" font-size="23.60" font-weight="bold" fill="#000">300</text>
<text transform="translate(442.68,987.90) scale(1.0560,1)" font-size="23.60" font-weight="bold" fill="#000">400</text>
<text transform="translate(532.21,987.90) scale(1.0560,1)" font-size="23.60" font-weight="bold" fill="#000">500</text>
<text transform="translate(622.23,987.90) scale(1.0560,1)" font-size="23.60" font-weight="bold" fill="#000">600</text>
<text transform="translate(711.76,987.90) scale(1.0560,1)" font-size="23.60" font-weight="bold" fill="#000">700</text>
<text transform="translate(334.88,1021.00) scale(1.1219,1)" font-size="32.50" font-weight="bold" fill="#000">Z&#39; (Ohm)</text>
<text transform="translate(42.90,833.00) scale(1.1000,1) rotate(-90)" font-size="34.00" font-weight="bold">-Z&#39;&#39; (Ohm)</text>
<text transform="translate(124.96,596.50) scale(1.0593,1)" font-size="61.00" font-weight="bold" fill="#000">c</text>
<rect x="312.0" y="561.8" width="7.20" height="7.20" fill="#fff" stroke="#000" stroke-width="1.10"/>
<line x1="286.50" y1="596.00" x2="344.40" y2="596.00" stroke="#000" stroke-width="3.00" stroke-linecap="butt"/>
<polygon points="315.6,633.3 319.8,626.3 311.4,626.3" fill="#fff" stroke="#f60000" stroke-width="1.10" stroke-linejoin="miter"/>
<line x1="286.50" y1="657.50" x2="344.40" y2="657.50" stroke="#f60000" stroke-width="3.00" stroke-linecap="butt"/>
<text transform="translate(352.87,573.50) scale(1.1001,1)" font-size="24.20" font-weight="bold" fill="#000">Experimental data of Graphite</text>
<text transform="translate(352.06,603.80) scale(1.1087,1)" font-size="24.20" font-weight="bold" fill="#000">Simulation result of Graphite</text>
<text transform="translate(352.87,634.40) scale(1.0983,1)" font-size="24.20" font-weight="bold" fill="#000">Experimental data of FLG</text>
<text transform="translate(352.06,664.60) scale(1.1058,1)" font-size="24.20" font-weight="bold" fill="#000">Simulation result of FLG</text>
<text transform="translate(161.47,840.40) scale(1.0811,1)" font-size="24.60" font-weight="bold" fill="#000">Lower Frequency</text>
<line x1="156.00" y1="857.40" x2="418.00" y2="857.40" stroke="#000" stroke-width="2.60" stroke-linecap="butt"/>
<polygon points="430.5,857.4 409,852 413,857.4 409,862.8" fill="#000"/>
<g id="cdata" clip-path="url(#clipc)">
<rect x="99.5" y="954.4" width="8.0" height="7.2" fill="#fff" stroke="#000" stroke-width="1.3"/>
<rect x="101.5" y="950.9" width="8.0" height="7.2" fill="#fff" stroke="#000" stroke-width="1.3"/>
<rect x="103.8" y="947.2" width="8.0" height="7.2" fill="#fff" stroke="#000" stroke-width="1.3"/>
<rect x="107.6" y="943.0" width="8.0" height="7.2" fill="#fff" stroke="#000" stroke-width="1.3"/>
<rect x="110.7" y="939.9" width="8.0" height="7.2" fill="#fff" stroke="#000" stroke-width="1.3"/>
<rect x="113.8" y="936.8" width="8.0" height="7.2" fill="#fff" stroke="#000" stroke-width="1.3"/>
<rect x="117.7" y="933.7" width="8.0" height="7.2" fill="#fff" stroke="#000" stroke-width="1.3"/>
<rect x="121.5" y="930.6" width="8.0" height="7.2" fill="#fff" stroke="#000" stroke-width="1.3"/>
<rect x="126.6" y="926.7" width="8.0" height="7.2" fill="#fff" stroke="#000" stroke-width="1.3"/>
<rect x="131.6" y="922.8" width="8.0" height="7.2" fill="#fff" stroke="#000" stroke-width="1.3"/>
<rect x="136.2" y="918.2" width="8.0" height="7.2" fill="#fff" stroke="#000" stroke-width="1.3"/>
<rect x="143.2" y="913.6" width="8.0" height="7.2" fill="#fff" stroke="#000" stroke-width="1.3"/>
<rect x="151.3" y="908.1" width="8.0" height="7.2" fill="#fff" stroke="#000" stroke-width="1.3"/>
<rect x="160.2" y="902.7" width="8.0" height="7.2" fill="#fff" stroke="#000" stroke-width="1.3"/>
<rect x="171.5" y="897.3" width="8.0" height="7.2" fill="#fff" stroke="#000" stroke-width="1.3"/>
<rect x="184.6" y="892.3" width="8.0" height="7.2" fill="#fff" stroke="#000" stroke-width="1.3"/>
<rect x="198.3" y="886.7" width="8.0" height="7.2" fill="#fff" stroke="#000" stroke-width="1.3"/>
<rect x="215.6" y="882.4" width="8.0" height="7.2" fill="#fff" stroke="#000" stroke-width="1.3"/>
<rect x="233.0" y="879.4" width="8.0" height="7.2" fill="#fff" stroke="#000" stroke-width="1.3"/>
<rect x="251.7" y="877.4" width="8.0" height="7.2" fill="#fff" stroke="#000" stroke-width="1.3"/>
<rect x="271.0" y="877.1" width="8.0" height="7.2" fill="#fff" stroke="#000" stroke-width="1.3"/>
<rect x="290.3" y="877.4" width="8.0" height="7.2" fill="#fff" stroke="#000" stroke-width="1.3"/>
<rect x="309.0" y="880.1" width="8.0" height="7.2" fill="#fff" stroke="#000" stroke-width="1.3"/>
<rect x="326.1" y="883.4" width="8.0" height="7.2" fill="#fff" stroke="#000" stroke-width="1.3"/>
<rect x="341.3" y="887.8" width="8.0" height="7.2" fill="#fff" stroke="#000" stroke-width="1.3"/>
<rect x="355.4" y="893.2" width="8.0" height="7.2" fill="#fff" stroke="#000" stroke-width="1.3"/>
<rect x="367.3" y="898.7" width="8.0" height="7.2" fill="#fff" stroke="#000" stroke-width="1.3"/>
<rect x="377.0" y="904.1" width="8.0" height="7.2" fill="#fff" stroke="#000" stroke-width="1.3"/>
<rect x="385.4" y="909.7" width="8.0" height="7.2" fill="#fff" stroke="#000" stroke-width="1.3"/>
<rect x="390.0" y="912.9" width="8.0" height="7.2" fill="#fff" stroke="#000" stroke-width="1.3"/>
<rect x="394.4" y="916.0" width="8.0" height="7.2" fill="#fff" stroke="#000" stroke-width="1.3"/>
<rect x="398.0" y="919.2" width="8.0" height="7.2" fill="#fff" stroke="#000" stroke-width="1.3"/>
<rect x="401.6" y="922.3" width="8.0" height="7.2" fill="#fff" stroke="#000" stroke-width="1.3"/>
<rect x="404.3" y="925.0" width="8.0" height="7.2" fill="#fff" stroke="#000" stroke-width="1.3"/>
<rect x="407.0" y="927.7" width="8.0" height="7.2" fill="#fff" stroke="#000" stroke-width="1.3"/>
<rect x="409.7" y="929.5" width="8.0" height="7.2" fill="#fff" stroke="#000" stroke-width="1.3"/>
<rect x="412.4" y="931.3" width="8.0" height="7.2" fill="#fff" stroke="#000" stroke-width="1.3"/>
<rect x="416.0" y="932.2" width="8.0" height="7.2" fill="#fff" stroke="#000" stroke-width="1.3"/>
<rect x="419.6" y="933.1" width="8.0" height="7.2" fill="#fff" stroke="#000" stroke-width="1.3"/>
<rect x="423.2" y="932.9" width="8.0" height="7.2" fill="#fff" stroke="#000" stroke-width="1.3"/>
<rect x="426.8" y="932.6" width="8.0" height="7.2" fill="#fff" stroke="#000" stroke-width="1.3"/>
<rect x="430.4" y="932.0" width="8.0" height="7.2" fill="#fff" stroke="#000" stroke-width="1.3"/>
<rect x="434.0" y="931.3" width="8.0" height="7.2" fill="#fff" stroke="#000" stroke-width="1.3"/>
<rect x="438.5" y="930.4" width="8.0" height="7.2" fill="#fff" stroke="#000" stroke-width="1.3"/>
<rect x="443.0" y="929.4" width="8.0" height="7.2" fill="#fff" stroke="#000" stroke-width="1.3"/>
<rect x="447.5" y="929.0" width="8.0" height="7.2" fill="#fff" stroke="#000" stroke-width="1.3"/>
<rect x="452.0" y="928.6" width="8.0" height="7.2" fill="#fff" stroke="#000" stroke-width="1.3"/>
<rect x="456.5" y="928.2" width="8.0" height="7.2" fill="#fff" stroke="#000" stroke-width="1.3"/>
<rect x="461.0" y="927.7" width="8.0" height="7.2" fill="#fff" stroke="#000" stroke-width="1.3"/>
<rect x="465.5" y="927.3" width="8.0" height="7.2" fill="#fff" stroke="#000" stroke-width="1.3"/>
<rect x="470.0" y="926.8" width="8.0" height="7.2" fill="#fff" stroke="#000" stroke-width="1.3"/>
<rect x="474.5" y="926.8" width="8.0" height="7.2" fill="#fff" stroke="#000" stroke-width="1.3"/>
<rect x="479.0" y="926.8" width="8.0" height="7.2" fill="#fff" stroke="#000" stroke-width="1.3"/>
<rect x="483.5" y="927.2" width="8.0" height="7.2" fill="#fff" stroke="#000" stroke-width="1.3"/>
<rect x="488.0" y="927.7" width="8.0" height="7.2" fill="#fff" stroke="#000" stroke-width="1.3"/>
<rect x="493.4" y="929.4" width="8.0" height="7.2" fill="#fff" stroke="#000" stroke-width="1.3"/>
<rect x="498.8" y="930.4" width="8.0" height="7.2" fill="#fff" stroke="#000" stroke-width="1.3"/>
<rect x="502.4" y="931.3" width="8.0" height="7.2" fill="#fff" stroke="#000" stroke-width="1.3"/>
<rect x="506.0" y="932.2" width="8.0" height="7.2" fill="#fff" stroke="#000" stroke-width="1.3"/>
<rect x="510.5" y="932.9" width="8.0" height="7.2" fill="#fff" stroke="#000" stroke-width="1.3"/>
<rect x="515.0" y="933.6" width="8.0" height="7.2" fill="#fff" stroke="#000" stroke-width="1.3"/>
<rect x="519.5" y="934.3" width="8.0" height="7.2" fill="#fff" stroke="#000" stroke-width="1.3"/>
<rect x="524.0" y="934.9" width="8.0" height="7.2" fill="#fff" stroke="#000" stroke-width="1.3"/>
<rect x="528.5" y="935.8" width="8.0" height="7.2" fill="#fff" stroke="#000" stroke-width="1.3"/>
<rect x="533.0" y="936.7" width="8.0" height="7.2" fill="#fff" stroke="#000" stroke-width="1.3"/>
<rect x="537.5" y="937.4" width="8.0" height="7.2" fill="#fff" stroke="#000" stroke-width="1.3"/>
<rect x="542.0" y="938.0" width="8.0" height="7.2" fill="#fff" stroke="#000" stroke-width="1.3"/>
<rect x="546.5" y="938.7" width="8.0" height="7.2" fill="#fff" stroke="#000" stroke-width="1.3"/>
<rect x="551.0" y="939.4" width="8.0" height="7.2" fill="#fff" stroke="#000" stroke-width="1.3"/>
<rect x="554.6" y="939.9" width="8.0" height="7.2" fill="#fff" stroke="#000" stroke-width="1.3"/>
<rect x="558.2" y="940.3" width="8.0" height="7.2" fill="#fff" stroke="#000" stroke-width="1.3"/>
<rect x="563.6" y="939.4" width="8.0" height="7.2" fill="#fff" stroke="#000" stroke-width="1.3"/>
<rect x="569.0" y="937.6" width="8.0" height="7.2" fill="#fff" stroke="#000" stroke-width="1.3"/>
<rect x="578.0" y="935.8" width="8.0" height="7.2" fill="#fff" stroke="#000" stroke-width="1.3"/>
<rect x="585.2" y="934.9" width="8.0" height="7.2" fill="#fff" stroke="#000" stroke-width="1.3"/>
<rect x="594.0" y="933.6" width="8.0" height="7.2" fill="#fff" stroke="#000" stroke-width="1.3"/>
<rect x="603.0" y="931.0" width="8.0" height="7.2" fill="#fff" stroke="#000" stroke-width="1.3"/>
<rect x="616.0" y="928.4" width="8.0" height="7.2" fill="#fff" stroke="#000" stroke-width="1.3"/>
<rect x="633.0" y="925.0" width="8.0" height="7.2" fill="#fff" stroke="#000" stroke-width="1.3"/>
<rect x="651.0" y="921.4" width="8.0" height="7.2" fill="#fff" stroke="#000" stroke-width="1.3"/>
<rect x="671.0" y="917.8" width="8.0" height="7.2" fill="#fff" stroke="#000" stroke-width="1.3"/>
<polyline points="101.4,961.0 101.8,960.0 102.5,958.6 103.2,957.0 104.0,955.5 104.8,954.1 105.5,952.7 106.5,951.3 107.7,949.7 109.3,947.9 111.1,946.0 113.2,944.0 115.5,941.9 118.1,939.7 121.0,937.3 124.0,935.0 127.0,932.6 129.9,930.3 132.8,928.0 135.8,925.6 138.7,923.3 141.6,920.9 144.5,918.5 147.4,916.2 150.3,914.0 153.1,912.1 155.9,910.4 158.7,908.7 161.9,907.1 165.5,905.5 169.4,903.9 173.4,902.4 177.4,900.9 181.0,899.6 184.5,898.3 188.3,897.0 192.9,895.5 198.6,893.6 205.2,891.4 211.9,889.2 218.0,887.5 223.2,886.3 227.9,885.4 232.4,884.7 237.0,884.0 241.8,883.4 246.5,882.8 251.2,882.4 256.0,882.0 260.8,881.7 265.5,881.6 270.2,881.5 275.0,881.5 279.8,881.5 284.5,881.6 289.2,881.7 294.0,882.0 298.8,882.5 303.6,883.1 308.4,883.8 313.0,884.5 317.4,885.2 321.8,885.9 325.9,886.6 330.0,887.5 333.9,888.5 337.7,889.6 341.4,890.8 345.0,892.0 348.6,893.3 352.2,894.7 355.7,896.1 359.0,897.5 362.2,898.9 365.2,900.2 368.2,901.6 371.0,903.0 373.7,904.5 376.2,906.0 378.6,907.5 381.0,909.0 383.4,910.5 385.8,912.1 388.0,913.6 390.0,915.0 391.7,916.1 393.2,917.1 394.6,918.0 396.0,919.0 397.4,920.0 398.8,920.9 400.3,921.9 402.0,923.2 404.1,924.9 406.5,926.9 408.9,928.9 411.0,930.4 412.7,931.4 414.2,932.1 415.5,932.6 417.0,933.0 418.6,933.4 420.2,933.7 421.9,933.9 423.6,934.0 425.4,933.9 427.2,933.7 429.0,933.3 430.8,933.0 432.6,932.6 434.3,932.2 436.1,931.7 438.0,931.3 440.1,930.9 442.4,930.6 444.7,930.3 447.0,930.0 449.2,929.7 451.5,929.5 453.8,929.2 456.0,929.0 458.2,928.8 460.5,928.6 462.8,928.4 465.0,928.2 467.2,928.0 469.5,927.9 471.8,927.8 474.0,927.7 476.2,927.7 478.5,927.7 480.8,927.8 483.0,927.9 485.2,928.0 487.5,928.2 489.8,928.4 492.0,928.6 494.2,928.8 496.5,929.0 498.8,929.2 501.0,929.4 503.2,929.6 505.5,929.8 507.8,930.1 510.0,930.4 512.2,930.7 514.5,931.1 516.8,931.6 519.0,932.0 521.2,932.5 523.5,933.0 525.8,933.5 528.0,934.0 530.2,934.5 532.5,934.9 534.8,935.4 537.0,935.8 539.3,936.2 541.6,936.7 543.9,937.1 546.0,937.6 547.9,938.1 549.6,938.5 551.3,939.0 553.0,939.4 554.8,939.9 556.7,940.3 558.6,940.7 560.4,941.2 562.2,941.7 564.0,942.2 565.8,942.6 567.6,943.0 569.4,943.3 571.3,943.5 573.2,943.6 575.0,943.6 576.7,943.6 578.4,943.4 580.1,943.2 582.0,943.0 584.1,942.7 586.4,942.3 588.7,942.0 591.0,941.6 593.2,941.3 595.4,941.0 597.7,940.7 600.0,940.3 602.4,939.7 604.9,939.0 607.5,938.2 610.0,937.5 612.5,936.9 615.0,936.2 617.5,935.6 620.0,935.0 622.5,934.4 625.0,933.7 627.5,933.1 630.0,932.5 632.3,932.0 634.4,931.5 636.8,930.9 640.0,930.3 644.3,929.5 649.4,928.5 654.8,927.5 660.0,926.6 665.1,925.9 670.3,925.2 675.3,924.6 680.0,924.0 684.6,923.5 689.0,923.0 692.8,922.6 695.5,922.3" fill="none" stroke="#000" stroke-width="3.30" stroke-linejoin="round" stroke-linecap="round"/>
<polyline points="101.5,960.5 101.8,960.1 102.1,959.6 102.5,958.9 103.0,958.3 103.5,957.6 104.0,957.0 104.6,956.5 105.2,955.9 105.8,955.4 106.5,954.9 107.3,954.5 108.0,954.0 108.8,953.5 109.5,953.1 110.3,952.7 111.1,952.2 112.0,951.9 113.0,951.5 114.0,951.2 115.1,950.9 116.2,950.6 117.4,950.4 118.6,950.2 120.0,950.0 121.5,949.8 123.1,949.6 124.8,949.5 126.6,949.4 128.3,949.3 130.0,949.2 131.7,949.2 133.4,949.1 135.1,949.2 136.8,949.2 138.4,949.2 140.0,949.3 141.5,949.4 142.9,949.5 144.2,949.6 145.6,949.7 146.8,949.8 148.0,950.0 149.1,950.2 150.2,950.4 151.2,950.6 152.2,950.9 153.1,951.2 154.0,951.5 154.8,951.9 155.4,952.3 156.1,952.8 156.7,953.2 157.3,953.6 158.0,954.0 158.8,954.3 159.5,954.6 160.3,954.8 161.1,955.0 162.0,955.3 163.0,955.5 164.0,955.8 165.1,956.0 166.2,956.3 167.4,956.6 168.6,956.8 170.0,957.0 171.5,957.1 173.1,957.2 174.8,957.2 176.6,957.2 178.3,957.2 180.0,957.2 181.7,957.2 183.4,957.1 185.2,957.1 186.9,957.0 188.5,956.9 190.0,956.8 191.4,956.6 192.6,956.5 193.8,956.2 194.9,956.0 196.0,955.8 197.0,955.5 198.0,955.2 199.0,954.8 199.9,954.4 200.8,954.0 201.5,953.7 202.0,953.5" fill="none" stroke="#f60000" stroke-width="9.00" stroke-linejoin="round" stroke-linecap="round"/>
<polygon points="101.5,966.5 106.8,957.5 96.2,957.5" fill="none" stroke="#f60000" stroke-width="1.30" stroke-linejoin="miter"/>
<polygon points="103.2,964.0 108.4,955.0 97.9,955.0" fill="none" stroke="#f60000" stroke-width="1.30" stroke-linejoin="miter"/>
<polygon points="105.3,961.9 110.5,952.9 100.0,952.9" fill="none" stroke="#f60000" stroke-width="1.30" stroke-linejoin="miter"/>
<polygon points="107.7,960.2 113.0,951.2 102.5,951.2" fill="none" stroke="#f60000" stroke-width="1.30" stroke-linejoin="miter"/>
<polygon points="110.3,958.7 115.6,949.7 105.1,949.7" fill="none" stroke="#f60000" stroke-width="1.30" stroke-linejoin="miter"/>
<polygon points="113.1,957.5 118.3,948.5 107.8,948.5" fill="none" stroke="#f60000" stroke-width="1.30" stroke-linejoin="miter"/>
<polygon points="116.0,956.7 121.2,947.7 110.7,947.7" fill="none" stroke="#f60000" stroke-width="1.30" stroke-linejoin="miter"/>
<polygon points="118.9,956.2 124.2,947.2 113.7,947.2" fill="none" stroke="#f60000" stroke-width="1.30" stroke-linejoin="miter"/>
<polygon points="121.9,955.8 127.1,946.8 116.6,946.8" fill="none" stroke="#f60000" stroke-width="1.30" stroke-linejoin="miter"/>
<polygon points="124.9,955.5 130.1,946.5 119.6,946.5" fill="none" stroke="#f60000" stroke-width="1.30" stroke-linejoin="miter"/>
<polygon points="127.9,955.3 133.1,946.3 122.6,946.3" fill="none" stroke="#f60000" stroke-width="1.30" stroke-linejoin="miter"/>
<polygon points="130.9,955.2 136.1,946.2 125.6,946.2" fill="none" stroke="#f60000" stroke-width="1.30" stroke-linejoin="miter"/>
<polygon points="133.9,955.1 139.1,946.1 128.6,946.1" fill="none" stroke="#f60000" stroke-width="1.30" stroke-linejoin="miter"/>
<polygon points="136.9,955.2 142.1,946.2 131.6,946.2" fill="none" stroke="#f60000" stroke-width="1.30" stroke-linejoin="miter"/>
<polygon points="139.9,955.3 145.1,946.3 134.6,946.3" fill="none" stroke="#f60000" stroke-width="1.30" stroke-linejoin="miter"/>
<polygon points="142.9,955.5 148.1,946.5 137.6,946.5" fill="none" stroke="#f60000" stroke-width="1.30" stroke-linejoin="miter"/>
<polygon points="145.9,955.7 151.1,946.7 140.6,946.7" fill="none" stroke="#f60000" stroke-width="1.30" stroke-linejoin="miter"/>
<polygon points="148.8,956.1 154.1,947.1 143.6,947.1" fill="none" stroke="#f60000" stroke-width="1.30" stroke-linejoin="miter"/>
<polygon points="151.8,956.8 157.0,947.8 146.5,947.8" fill="none" stroke="#f60000" stroke-width="1.30" stroke-linejoin="miter"/>
<polygon points="154.6,957.8 159.8,948.8 149.3,948.8" fill="none" stroke="#f60000" stroke-width="1.30" stroke-linejoin="miter"/>
<polygon points="157.1,959.5 162.3,950.5 151.8,950.5" fill="none" stroke="#f60000" stroke-width="1.30" stroke-linejoin="miter"/>
<polygon points="159.8,960.7 165.0,951.7 154.5,951.7" fill="none" stroke="#f60000" stroke-width="1.30" stroke-linejoin="miter"/>
<polygon points="162.7,961.4 167.9,952.4 157.4,952.4" fill="none" stroke="#f60000" stroke-width="1.30" stroke-linejoin="miter"/>
<polygon points="165.6,962.2 170.8,953.2 160.3,953.2" fill="none" stroke="#f60000" stroke-width="1.30" stroke-linejoin="miter"/>
<polygon points="168.5,962.8 173.8,953.8 163.3,953.8" fill="none" stroke="#f60000" stroke-width="1.30" stroke-linejoin="miter"/>
<polygon points="171.5,963.1 176.8,954.1 166.3,954.1" fill="none" stroke="#f60000" stroke-width="1.30" stroke-linejoin="miter"/>
<polygon points="174.5,963.2 179.8,954.2 169.3,954.2" fill="none" stroke="#f60000" stroke-width="1.30" stroke-linejoin="miter"/>
<polygon points="177.5,963.2 182.8,954.2 172.3,954.2" fill="none" stroke="#f60000" stroke-width="1.30" stroke-linejoin="miter"/>
<polygon points="180.5,963.2 185.8,954.2 175.3,954.2" fill="none" stroke="#f60000" stroke-width="1.30" stroke-linejoin="miter"/>
<polygon points="183.5,963.1 188.8,954.1 178.3,954.1" fill="none" stroke="#f60000" stroke-width="1.30" stroke-linejoin="miter"/>
<polygon points="186.5,963.0 191.8,954.0 181.3,954.0" fill="none" stroke="#f60000" stroke-width="1.30" stroke-linejoin="miter"/>
<polygon points="189.5,962.8 194.7,953.8 184.2,953.8" fill="none" stroke="#f60000" stroke-width="1.30" stroke-linejoin="miter"/>
<polygon points="192.5,962.5 197.7,953.5 187.2,953.5" fill="none" stroke="#f60000" stroke-width="1.30" stroke-linejoin="miter"/>
<polygon points="195.4,961.9 200.7,952.9 190.2,952.9" fill="none" stroke="#f60000" stroke-width="1.30" stroke-linejoin="miter"/>
<polygon points="198.3,961.1 203.5,952.1 193.0,952.1" fill="none" stroke="#f60000" stroke-width="1.30" stroke-linejoin="miter"/>
<polygon points="201.1,959.9 206.3,950.9 195.8,950.9" fill="none" stroke="#f60000" stroke-width="1.30" stroke-linejoin="miter"/>
<polygon points="203.5,958.5 208.8,949.5 198.2,949.5" fill="#fff" stroke="#f60000" stroke-width="1.40" stroke-linejoin="miter"/>
</g>
<rect x="894.50" y="530.80" width="599.50" height="427.70" fill="none" stroke="#000" stroke-width="1.90" stroke-linejoin="round"/>
<line x1="954.60" y1="958.50" x2="954.60" y2="950.50" stroke="#000" stroke-width="1.80" stroke-linecap="butt"/>
<line x1="1074.40" y1="958.50" x2="1074.40" y2="950.50" stroke="#000" stroke-width="1.80" stroke-linecap="butt"/>
<line x1="1194.20" y1="958.50" x2="1194.20" y2="950.50" stroke="#000" stroke-width="1.80" stroke-linecap="butt"/>
<line x1="1314.00" y1="958.50" x2="1314.00" y2="950.50" stroke="#000" stroke-width="1.80" stroke-linecap="butt"/>
<line x1="1433.80" y1="958.50" x2="1433.80" y2="950.50" stroke="#000" stroke-width="1.80" stroke-linecap="butt"/>
<line x1="1014.50" y1="958.50" x2="1014.50" y2="954.50" stroke="#000" stroke-width="1.80" stroke-linecap="butt"/>
<line x1="1134.30" y1="958.50" x2="1134.30" y2="954.50" stroke="#000" stroke-width="1.80" stroke-linecap="butt"/>
<line x1="1254.10" y1="958.50" x2="1254.10" y2="954.50" stroke="#000" stroke-width="1.80" stroke-linecap="butt"/>
<line x1="1373.90" y1="958.50" x2="1373.90" y2="954.50" stroke="#000" stroke-width="1.80" stroke-linecap="butt"/>
<line x1="894.50" y1="836.26" x2="902.10" y2="836.26" stroke="#000" stroke-width="1.80" stroke-linecap="butt"/>
<line x1="894.50" y1="714.02" x2="902.10" y2="714.02" stroke="#000" stroke-width="1.80" stroke-linecap="butt"/>
<line x1="894.50" y1="591.78" x2="902.10" y2="591.78" stroke="#000" stroke-width="1.80" stroke-linecap="butt"/>
<line x1="894.50" y1="897.38" x2="898.50" y2="897.38" stroke="#000" stroke-width="1.80" stroke-linecap="butt"/>
<line x1="894.50" y1="775.14" x2="898.50" y2="775.14" stroke="#000" stroke-width="1.80" stroke-linecap="butt"/>
<line x1="894.50" y1="652.90" x2="898.50" y2="652.90" stroke="#000" stroke-width="1.80" stroke-linecap="butt"/>
<text transform="translate(873.10,964.90) scale(1.0000,1)" font-size="23.70" font-weight="bold" fill="#000">0</text>
<text transform="translate(849.40,842.66) scale(1.0000,1)" font-size="23.70" font-weight="bold" fill="#000">200</text>
<text transform="translate(849.40,720.42) scale(1.0000,1)" font-size="23.70" font-weight="bold" fill="#000">400</text>
<text transform="translate(849.40,598.18) scale(1.0000,1)" font-size="23.70" font-weight="bold" fill="#000">600</text>
<text transform="translate(948.60,985.60) scale(1.0000,1)" font-size="24.00" font-weight="bold" fill="#000">2</text>
<text transform="translate(1068.52,985.60) scale(1.0000,1)" font-size="24.00" font-weight="bold" fill="#000">4</text>
<text transform="translate(1188.20,985.60) scale(1.0000,1)" font-size="24.00" font-weight="bold" fill="#000">6</text>
<text transform="translate(1308.00,985.60) scale(1.0000,1)" font-size="24.00" font-weight="bold" fill="#000">8</text>
<text transform="translate(1421.32,985.60) scale(1.0000,1)" font-size="24.00" font-weight="bold" fill="#000">10</text>
<text transform="translate(836.60,835.50) scale(1.0000,1) rotate(-90)" font-size="34.90" font-weight="bold">Z&#39; (Ohm)</text>
<text transform="translate(919.18,594.00) scale(1.0630,1)" font-size="57.00" font-weight="bold" fill="#000">d</text>
<text transform="translate(1019.12,604.10) scale(1.0719,1)" font-size="33.60" font-weight="bold" fill="#000">slope= 18.5</text>
<text transform="translate(940.24,856.20) scale(1.0587,1)" font-size="33.50" font-weight="bold" fill="#f60000">slope= 2.4</text>
<line x1="1267.40" y1="678.30" x2="1342.00" y2="678.30" stroke="#000" stroke-width="1.10" stroke-linecap="butt"/>
<rect x="1299.8" y="673.3" width="9.90" height="9.90" fill="#000" stroke="#000" stroke-width="0.00"/>
<line x1="1267.40" y1="718.20" x2="1342.00" y2="718.20" stroke="#f60000" stroke-width="1.10" stroke-linecap="butt"/>
<circle cx="1304.5" cy="718.2" r="5.90" fill="#f60000" stroke="#f60000" stroke-width="0.00"/>
<text transform="translate(1350.35,689.00) scale(1.0651,1)" font-size="31.00" font-weight="bold" fill="#000">Graphite</text>
<text transform="translate(1351.05,729.40) scale(1.0512,1)" font-size="31.00" font-weight="bold" fill="#000">FLG</text>
<text transform="translate(1127.37,1024.50) scale(1.3310,1)" font-size="25.00" font-weight="normal" fill="#000">ω</text>
<text transform="translate(1156.77,1006.00) scale(1.2226,1)" font-size="17.00" font-weight="bold" fill="#000">-1/2</text>
<text transform="translate(1199.82,1024.50) scale(1.0000,1)" font-size="22.00" font-weight="bold" fill="#000">(S</text>
<text transform="translate(1219.16,1006.00) scale(1.2418,1)" font-size="17.00" font-weight="bold" fill="#000">-1/2</text>
<text transform="translate(1253.48,1024.50) scale(0.7867,1)" font-size="22.00" font-weight="bold" fill="#000">)</text>
<g id="ddata" clip-path="url(#clipd)">
<polyline points="951.8,664.5 963.4,661.6 976.7,658.5 990.8,656.0 1006.4,652.9 1023.7,649.8 1042.8,646.3 1063.9,642.5 1087.0,639.1 1112.4,635.3 1140.7,631.4 1171.4,626.9 1205.1,620.5 1242.1,613.9 1283.7,605.3 1328.8,594.1 1378.5,582.0 1434.2,567.8" fill="none" stroke="#000" stroke-width="1.00" stroke-linejoin="round" stroke-linecap="round"/>
<rect x="947.0" y="659.9" width="9.6" height="9.3" fill="#000"/>
<rect x="958.6" y="657.0" width="9.6" height="9.3" fill="#000"/>
<rect x="971.9" y="653.9" width="9.6" height="9.3" fill="#000"/>
<rect x="986.0" y="651.4" width="9.6" height="9.3" fill="#000"/>
<rect x="1001.6" y="648.2" width="9.6" height="9.3" fill="#000"/>
<rect x="1018.9" y="645.1" width="9.6" height="9.3" fill="#000"/>
<rect x="1038.0" y="641.6" width="9.6" height="9.3" fill="#000"/>
<rect x="1059.1" y="637.9" width="9.6" height="9.3" fill="#000"/>
<rect x="1082.2" y="634.5" width="9.6" height="9.3" fill="#000"/>
<rect x="1107.6" y="630.6" width="9.6" height="9.3" fill="#000"/>
<rect x="1135.9" y="626.8" width="9.6" height="9.3" fill="#000"/>
<rect x="1166.6" y="622.2" width="9.6" height="9.3" fill="#000"/>
<rect x="1200.3" y="615.9" width="9.6" height="9.3" fill="#000"/>
<rect x="1237.3" y="609.2" width="9.6" height="9.3" fill="#000"/>
<rect x="1278.9" y="600.6" width="9.6" height="9.3" fill="#000"/>
<rect x="1324.0" y="589.5" width="9.6" height="9.3" fill="#000"/>
<rect x="1373.7" y="577.4" width="9.6" height="9.3" fill="#000"/>
<rect x="1429.4" y="563.1" width="9.6" height="9.3" fill="#000"/>
<polyline points="951.8,900.6 963.4,900.6 976.7,899.9 990.8,899.3 1006.4,898.9 1023.7,898.6 1042.8,897.6 1063.9,897.2 1087.0,896.2 1112.4,895.9 1140.7,894.8 1171.4,894.1 1205.1,893.5 1242.1,892.8 1283.7,892.1 1328.8,891.1 1378.5,890.1 1434.2,889.0" fill="none" stroke="#f60000" stroke-width="1.00" stroke-linejoin="round" stroke-linecap="round"/>
<circle cx="951.8" cy="900.6" r="5.5" fill="#f60000"/>
<circle cx="963.4" cy="900.6" r="5.5" fill="#f60000"/>
<circle cx="976.7" cy="899.9" r="5.5" fill="#f60000"/>
<circle cx="990.8" cy="899.3" r="5.5" fill="#f60000"/>
<circle cx="1006.4" cy="898.9" r="5.5" fill="#f60000"/>
<circle cx="1023.7" cy="898.6" r="5.5" fill="#f60000"/>
<circle cx="1042.8" cy="897.6" r="5.5" fill="#f60000"/>
<circle cx="1063.9" cy="897.2" r="5.5" fill="#f60000"/>
<circle cx="1087.0" cy="896.2" r="5.5" fill="#f60000"/>
<circle cx="1112.4" cy="895.9" r="5.5" fill="#f60000"/>
<circle cx="1140.7" cy="894.8" r="5.5" fill="#f60000"/>
<circle cx="1171.4" cy="894.1" r="5.5" fill="#f60000"/>
<circle cx="1205.1" cy="893.5" r="5.5" fill="#f60000"/>
<circle cx="1242.1" cy="892.8" r="5.5" fill="#f60000"/>
<circle cx="1283.7" cy="892.1" r="5.5" fill="#f60000"/>
<circle cx="1328.8" cy="891.1" r="5.5" fill="#f60000"/>
<circle cx="1378.5" cy="890.1" r="5.5" fill="#f60000"/>
<circle cx="1434.2" cy="889.0" r="5.5" fill="#f60000"/>
</g>
</svg>
</body></html>
